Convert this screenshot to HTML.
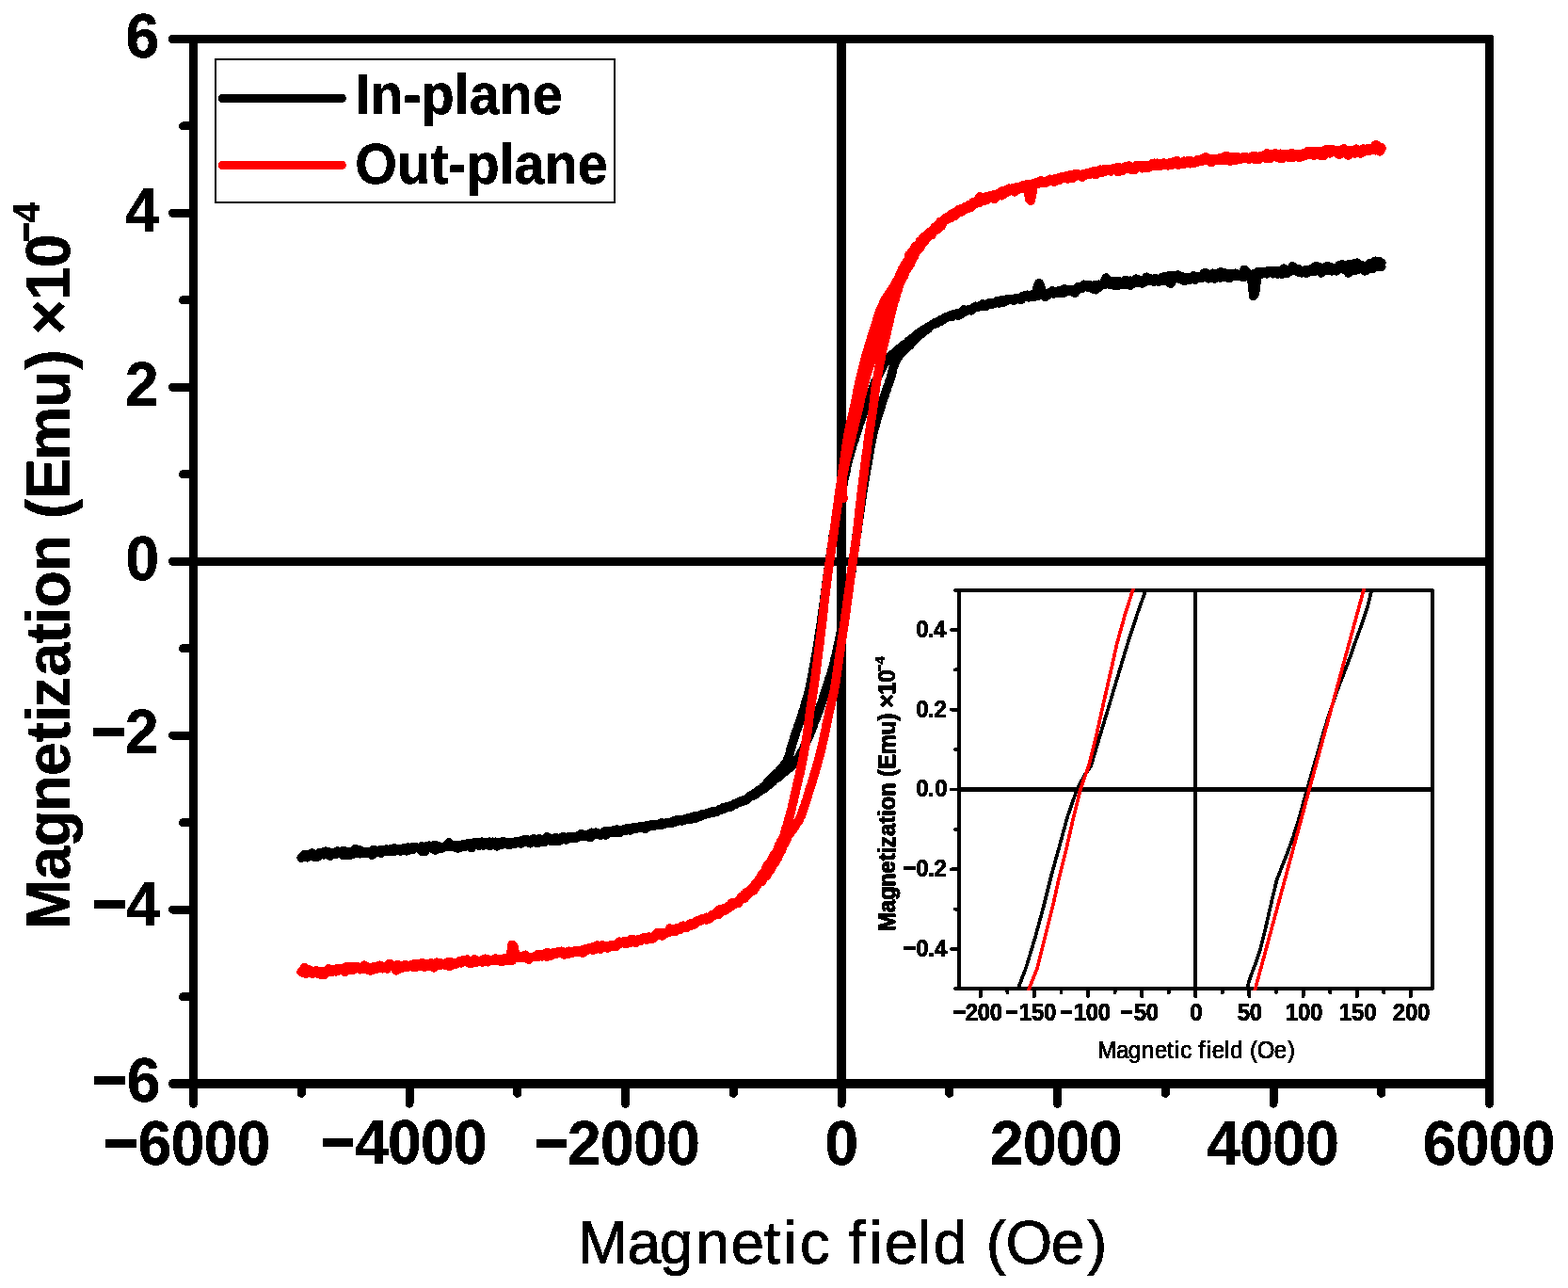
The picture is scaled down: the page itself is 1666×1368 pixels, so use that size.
<!DOCTYPE html>
<html lang="en"><head><meta charset="utf-8">
<title>Magnetization vs. magnetic field (in-plane / out-plane)</title>
<style>
html,body{margin:0;padding:0;background:#fff;}
body{width:1666px;height:1368px;overflow:hidden;}
svg{display:block;}
text{font-family:"Liberation Sans", Arial, Helvetica, sans-serif;fill:#000;filter:url(#bw);}
.b{font-weight:bold;}
.ax{stroke:#000;fill:none;stroke-linecap:round;shape-rendering:crispEdges;}
.cv{shape-rendering:crispEdges;}
</style></head><body>
<svg width="1666" height="1368" viewBox="0 0 1666 1368">
<defs><filter id="bw" x="-20%" y="-20%" width="140%" height="140%" color-interpolation-filters="sRGB"><feComponentTransfer><feFuncA type="discrete" tableValues="0 1"/></feComponentTransfer></filter></defs>
<rect x="0" y="0" width="1666" height="1368" fill="#fff"/>
<g class="ax" stroke-width="9.0">
<path stroke-linecap="butt" stroke-width="9.2" d="M201.0 41.4H1586.0"/>
<path stroke-linecap="butt" stroke-width="9.9" d="M201.0 1150.95H1587.0"/>
<path stroke-linecap="round" stroke-width="9.9" d="M205.5 1150.95H183.85"/>
<path stroke-linecap="round" stroke-width="9.2" d="M205.5 41.4H183.5"/>
<path stroke-linecap="butt" d="M205.5 36.8V1155.9M1582.5 37.8V1155.9"/>
<path stroke-linecap="butt" d="M205.5 596.20H1582.5"/>
<path stroke-linecap="butt" stroke-width="9.9" d="M894.00 41.4V1151.0"/>
<path d="M201.50 1151.00H183.40M201.50 1058.53H194.50M201.50 966.07H183.40M201.50 873.60H194.50M201.50 781.13H183.40M201.50 688.67H194.50M201.50 596.20H183.40M201.50 503.73H194.50M201.50 411.27H183.40M201.50 318.80H194.50M201.50 226.33H183.40M201.50 133.87H194.50M201.50 41.40H183.40M205.50 1155.00V1172.30M320.25 1155.00V1161.30M435.00 1155.00V1172.30M549.75 1155.00V1161.30M664.50 1155.00V1172.30M779.25 1155.00V1161.30M894.00 1155.00V1172.30M1008.75 1155.00V1161.30M1123.50 1155.00V1172.30M1238.25 1155.00V1161.30M1353.00 1155.00V1172.30M1467.75 1155.00V1161.30M1582.50 1155.00V1172.30"/>
</g>
<text class="b" transform="translate(0 60.85) scale(1 1.03)" font-size="64" stroke="#000" stroke-width="0.5"><tspan x="133.51" y="0">6</tspan></text>
<text class="b" transform="translate(0 245.65) scale(1 1.03)" font-size="64" stroke="#000" stroke-width="0.5"><tspan x="133.18" y="0">4</tspan></text>
<text class="b" transform="translate(0 430.65) scale(1 1.03)" font-size="64" stroke="#000" stroke-width="0.5"><tspan x="132.93" y="0">2</tspan></text>
<text class="b" transform="translate(0 615.85) scale(1 1.03)" font-size="64" stroke="#000" stroke-width="0.5"><tspan x="133.62" y="0">0</tspan></text>
<text class="b" transform="translate(0 799.65) scale(1 1.03)" font-size="64" stroke="#000" stroke-width="0.5"><tspan font-size="62.13" stroke-width="1.94" stroke-linejoin="miter" x="97.39" y="-0.84">−</tspan><tspan x="132.93" y="0">2</tspan></text>
<text class="b" transform="translate(0 982.55) scale(1 1.03)" font-size="64" stroke="#000" stroke-width="0.5"><tspan font-size="62.13" stroke-width="1.94" stroke-linejoin="miter" x="98.39" y="-0.84">−</tspan><tspan x="134.28" y="0">4</tspan></text>
<text class="b" transform="translate(0 1169.75) scale(1 1.03)" font-size="64" stroke="#000" stroke-width="0.5"><tspan font-size="62.13" stroke-width="1.94" stroke-linejoin="miter" x="98.39" y="-0.84">−</tspan><tspan x="134.71" y="0">6</tspan></text>
<text class="b" transform="translate(0 1236.85) scale(1 1.03)" font-size="64" stroke="#000" stroke-width="0.5"><tspan font-size="60.86" stroke-width="2.08" stroke-linejoin="miter" x="110.41" y="-1.46">−</tspan><tspan x="146.71 181.71 216.71 251.71" y="0">6000</tspan></text>
<text class="b" transform="translate(0 1235.85) scale(1 1.03)" font-size="64" stroke="#000" stroke-width="0.5"><tspan font-size="60.86" stroke-width="2.08" stroke-linejoin="miter" x="341.31" y="-1.46">−</tspan><tspan x="376.98 411.98 446.98 481.98" y="0">4000</tspan></text>
<text class="b" transform="translate(0 1236.75) scale(1 1.03)" font-size="64" stroke="#000" stroke-width="0.5"><tspan font-size="60.86" stroke-width="2.08" stroke-linejoin="miter" x="568.31" y="-1.46">−</tspan><tspan x="603.13 638.13 673.13 708.13" y="0">2000</tspan></text>
<text class="b" transform="translate(0 1236.85) scale(1 1.03)" font-size="64" stroke="#000" stroke-width="0.5"><tspan x="876.42" y="0">0</tspan></text>
<text class="b" transform="translate(0 1236.75) scale(1 1.03)" font-size="64" stroke="#000" stroke-width="0.5"><tspan x="1051.93 1086.93 1121.93 1156.93" y="0">2000</tspan></text>
<text class="b" transform="translate(0 1236.75) scale(1 1.03)" font-size="64" stroke="#000" stroke-width="0.5"><tspan x="1282.18 1317.18 1352.18 1387.18" y="0">4000</tspan></text>
<text class="b" transform="translate(0 1236.85) scale(1 1.03)" font-size="64" stroke="#000" stroke-width="0.5"><tspan x="1511.81 1546.81 1581.81 1616.81" y="0">6000</tspan></text>
<text transform="translate(0.00 1341.80) scale(1.0 1.025)" font-size="64" stroke="#000" stroke-width="0.9" stroke-linejoin="round"><tspan x="613.80 666.53 700.76 739.20 776.43 811.48 832.17 849.63 881.63 901.54 923.17 939.73 975.04 991.76 1027.36 1047.68 1068.42 1116.73 1155.08" y="0">Magnetic field (Oe)</tspan></text>
<text class="b" transform="translate(74.10 990.00) rotate(-90) scale(1.0 1.04)" font-size="64" stroke="#000" stroke-width="0.5" stroke-linejoin="round"><tspan x="2.97 55.58 90.52 128.13 165.95 201.67 222.98 238.69 271.77 306.77 327.08 344.85 383.13 422.23 439.06 460.17 501.23 557.38 597.59 618.90 634.46 671.22 705.82" y="0">Magnetization (Emu) ×10</tspan><tspan font-size="35.04" stroke-width="2.13" stroke-linejoin="miter" x="732.91" y="-32.77">−</tspan><tspan font-size="38.6" stroke-width="0.4" x="753.82" y="-30.87">4</tspan></text>
<rect class="cv" x="229" y="63.15" width="424" height="151.8" fill="#fff" stroke="#000" stroke-width="2"/>
<path class="cv" d="M236.4 104.4H363.3" stroke="#000" stroke-width="9.2" stroke-linecap="round" fill="none"/>
<path class="cv" d="M236.4 175.4H363.3" stroke="#f00" stroke-width="9.2" stroke-linecap="round" fill="none"/>
<text class="b" transform="translate(377.30 121.00) scale(1 1.06)" font-size="57.5" text-anchor="start" stroke="#000" stroke-width="0.6">In-plane</text>
<text class="b" transform="translate(377.30 195.20) scale(1 1.06)" font-size="57.5" text-anchor="start" stroke="#000" stroke-width="0.6">Out-plane</text>
<g class="cv" fill="none" stroke-linejoin="round" stroke-linecap="round">
<path stroke="#000" stroke-width="9.6" d="M320.2 910.8L321.8 909.1L323.4 907.6L325.0 909.1L326.6 910.7L328.2 909.4L329.8 908.2L331.4 906.8L333.0 909.5L334.6 910.4L336.2 908.0L337.8 907.4L339.4 905.6L341.0 905.7L342.6 907.2L344.2 907.9L345.8 904.2L347.4 906.7L349.0 908.2L350.6 909.2L352.2 907.8L353.8 907.1L355.4 907.5L357.0 907.2L358.6 906.6L360.2 905.8L361.8 904.9L363.4 905.7L365.0 908.6L366.6 906.2L368.2 908.1L369.8 907.1L371.4 908.4L373.0 906.8L374.6 907.3L376.2 906.0L377.8 901.5L379.4 904.2L381.0 904.0L382.6 906.7L384.2 906.2L385.8 904.7L387.4 905.1L389.0 904.6L390.6 904.7L392.2 906.1L393.8 904.5L395.4 905.6L397.0 902.5L398.6 904.4L400.2 903.5L401.8 904.0L403.4 902.9L405.0 904.4L406.6 902.8L408.2 903.7L409.8 902.1L411.4 902.3L413.0 903.0L414.6 904.3L416.2 902.7L417.8 902.5L419.4 900.8L421.0 902.8L422.6 902.2L424.2 902.0L425.8 902.1L427.4 902.2L429.0 902.2L430.6 903.1L432.2 903.9L433.8 903.3L435.4 901.8L437.0 900.1L438.6 900.1L440.2 899.9L441.8 900.2L443.4 900.3L445.0 900.9L446.6 900.3L448.2 898.8L449.8 900.8L451.4 901.9L453.0 898.9L454.6 899.9L456.2 899.3L457.8 899.2L459.4 901.5L461.0 897.9L462.6 897.4L464.2 899.1L465.8 898.9L467.4 899.5L469.0 900.9L470.6 900.4L472.2 899.5L473.8 898.3L475.4 898.3L477.0 899.0L478.6 897.6L480.2 899.6L481.8 898.3L483.4 897.5L485.0 898.8L486.6 900.9L488.2 900.5L489.8 899.0L491.4 898.0L493.0 896.4L494.5 898.8L496.1 898.4L497.7 897.4L499.3 897.9L500.9 900.6L502.5 897.8L504.1 895.0L505.7 895.4L507.3 897.8L508.9 897.9L510.5 897.2L512.1 894.2L513.7 895.3L515.3 896.2L516.9 894.7L518.5 896.1L520.1 894.2L521.7 896.4L523.3 896.9L524.9 895.6L526.5 894.3L528.1 894.6L529.7 895.1L531.3 897.6L532.9 897.1L534.5 896.8L536.1 896.5L537.7 895.1L539.3 895.5L540.9 894.4L542.5 894.7L544.1 895.2L545.7 894.8L547.3 894.2L548.9 893.4L550.5 894.6L552.1 894.6L553.7 895.8L555.3 892.9L556.9 892.0L558.5 893.4L560.1 894.1L561.7 895.1L563.3 893.8L564.9 893.3L566.5 890.8L568.1 892.0L569.7 893.4L571.3 895.7L572.9 892.2L574.5 892.2L576.1 894.1L577.7 892.7L579.3 894.0L580.9 889.0L582.5 889.6L584.1 890.4L585.6 891.3L587.2 893.6L588.8 892.2L590.4 893.1L592.0 891.1L593.6 893.2L595.2 892.5L596.8 889.9L598.4 888.4L600.0 890.8L601.6 891.9L603.2 889.6L604.8 888.8L606.3 890.3L607.9 890.4L609.5 890.3L611.1 890.6L612.7 890.1L614.3 887.8L615.9 887.4L617.5 885.7L619.1 887.3L620.7 887.7L622.2 888.6L623.8 887.9L625.4 888.7L627.0 889.4L628.6 886.9L630.2 885.1L631.8 884.9L633.4 884.2L634.9 884.9L636.5 886.1L638.1 885.5L639.7 885.6L641.3 886.2L642.9 886.9L644.5 886.7L646.0 885.0L647.6 884.1L649.2 884.2L650.8 882.2L652.4 882.6L654.0 882.2L655.5 881.2L657.1 882.8L658.7 884.2L660.3 881.9L661.9 882.4L663.5 880.4L665.0 880.5L666.6 879.8L668.2 879.6L669.8 882.0L671.4 880.1L673.0 880.5L674.5 880.6L676.1 880.1L677.7 878.7L679.3 878.0L680.9 877.5L682.5 879.5L684.0 879.1L685.6 880.3L687.2 878.6L688.8 877.2L690.4 877.8L692.0 876.9L693.5 876.5L695.1 875.5L696.7 876.5L698.3 876.7L699.9 876.5L701.5 874.3L703.1 873.9L704.6 874.5L706.2 874.3L707.8 874.1L709.4 873.8L711.0 873.8L712.5 873.7L714.1 874.2L715.7 873.7L717.3 871.6L718.8 871.6L720.4 871.7L722.0 871.7L723.5 871.3L725.1 870.8L726.7 871.1L728.2 870.4L729.8 869.9L731.4 870.1L732.9 870.0L734.5 869.9L736.0 869.6L737.6 868.0L739.1 869.3L740.7 868.1L742.2 867.6L743.8 867.2L745.3 866.3L746.8 865.1L748.4 865.0L749.9 864.8L751.4 864.7L753.0 864.0L754.5 862.9L756.0 862.9L757.6 863.0L759.1 862.8L760.6 862.3L762.1 862.0L763.7 860.1L765.2 859.6L766.7 859.3L768.2 858.0L769.7 858.4L771.3 857.4L772.8 856.7L774.3 857.3L775.8 857.2L777.3 856.5L778.8 855.0L780.3 853.9L781.8 854.3L783.2 852.9L784.7 852.7L786.2 852.2L787.6 851.6L789.1 850.9L790.5 850.8L792.0 849.9L793.4 849.2L794.8 847.8L796.3 846.1L797.7 844.8L799.1 845.0L800.5 845.2L801.9 844.2L803.3 843.5L804.6 841.6L806.0 840.9L807.3 840.6L808.7 839.3L810.0 838.4L811.3 838.3L812.6 837.3L813.9 836.2L815.1 835.0L816.4 833.9L817.6 833.0L818.8 831.9L820.1 831.0L821.3 830.2L822.5 828.3L823.7 827.4L824.9 826.4L826.2 826.1L827.4 824.8L828.7 823.4L830.0 823.0L831.3 821.3L832.6 820.6L833.9 819.5L835.2 818.6L836.5 817.5L837.7 816.1L839.0 815.5L840.2 813.9L841.4 813.5L842.5 812.6L843.6 811.0L844.6 810.3L845.6 809.1L846.6 807.4L847.4 805.9L848.3 805.5L849.1 803.7L849.9 801.6L850.7 800.2L851.4 799.3L852.1 798.1L852.9 796.7L853.6 795.5L854.2 793.8L854.9 792.2L855.6 790.7L856.3 788.8L856.9 787.6L857.6 786.7L858.3 784.6L858.9 783.6L859.5 782.1L860.2 780.5L860.8 779.1L861.4 777.8L862.0 776.2L862.6 773.8L863.2 772.9L863.8 771.5L864.4 769.6L864.9 768.1L865.5 766.6L866.1 765.0L866.6 764.5L867.2 762.9L867.8 761.1L868.3 759.3L868.9 757.5L869.4 756.1L870.0 754.9L870.5 753.4L871.0 752.0L871.6 750.3L872.1 748.6L872.6 747.4L873.1 746.2L873.6 744.7L874.2 742.6L874.7 740.8L875.2 739.3L875.7 737.8L876.2 736.3L876.7 735.1L877.2 733.4L877.6 732.4L878.1 730.8L878.6 729.4L879.1 727.4L879.6 726.2L880.1 724.6L880.5 722.9L881.0 721.0L881.5 720.0L882.0 718.8L882.5 716.7L882.9 715.7L883.4 713.8L883.8 712.4L884.3 710.8L884.7 709.9L885.2 707.6L885.6 706.3L886.0 704.9L886.4 702.4L886.8 701.0L887.2 698.5L887.6 697.7L888.0 696.7L888.3 695.2L888.7 693.1L889.0 691.9L889.4 690.3L889.7 688.7L890.0 687.6L890.3 685.9L890.7 684.5L891.0 683.2L891.3 681.0L891.6 679.3L891.9 677.9L892.2 676.7L892.5 675.6L892.9 673.4L893.2 671.8L893.5 670.7L893.8 668.8L894.2 667.6L894.5 665.7L894.9 663.9L895.2 662.2L895.6 660.6L895.9 659.1L896.3 658.0L896.6 656.3L897.0 654.7L897.3 653.1L897.6 651.3L898.0 649.5L898.3 647.6L898.6 647.3L898.9 645.2L899.2 643.6L899.5 641.2L899.8 639.8L900.0 639.1L900.3 637.2L900.6 635.8L900.8 633.7L901.1 632.7L901.3 631.0L901.6 629.4L901.8 627.8L902.0 626.3L902.3 625.2L902.5 623.0L902.7 621.0L902.9 619.7L903.2 618.5L903.4 616.6L903.6 614.8L903.8 613.4L904.0 611.8L904.2 609.7L904.5 608.9L904.7 607.3L904.9 606.2L905.1 604.4L905.3 602.7L905.6 601.2L905.8 599.5L906.0 597.1L906.2 595.8L906.5 594.4L906.7 592.0L906.9 590.9L907.2 590.1L907.4 588.1L907.6 586.8L907.8 584.4L908.1 583.5L908.3 582.0L908.5 580.8L908.8 578.7L909.0 577.3L909.2 575.5L909.4 573.9L909.7 572.4L909.9 570.3L910.1 568.6L910.4 567.2L910.6 566.1L910.8 564.7L911.0 562.7L911.3 560.3L911.5 559.4L911.7 558.1L911.9 556.6L912.2 555.2L912.4 553.6L912.6 551.8L912.9 549.5L913.1 548.2L913.3 546.9L913.5 545.8L913.7 543.8L914.0 542.1L914.2 540.9L914.4 539.4L914.6 537.5L914.8 535.4L915.1 533.8L915.3 532.3L915.5 531.0L915.7 529.2L916.0 527.7L916.2 525.4L916.4 524.7L916.7 523.2L916.9 521.0L917.2 519.8L917.4 517.7L917.7 516.5L917.9 515.0L918.2 513.6L918.4 512.4L918.7 510.9L918.9 508.2L919.2 506.7L919.5 505.2L919.8 503.6L920.0 502.1L920.3 500.4L920.6 499.2L920.8 497.7L921.1 495.8L921.4 494.6L921.7 493.4L922.0 491.6L922.2 490.1L922.5 488.1L922.8 486.9L923.1 485.5L923.3 483.8L923.6 481.5L923.9 480.2L924.2 478.6L924.5 477.1L924.7 475.5L925.0 473.7L925.3 471.8L925.6 471.2L925.9 468.9L926.2 467.6L926.6 466.2L926.9 463.8L927.2 462.8L927.6 460.7L928.0 459.3L928.3 458.5L928.7 456.7L929.1 455.0L929.5 453.7L929.9 453.0L930.4 451.0L930.8 449.3L931.2 448.0L931.7 445.5L932.1 444.4L932.6 443.0L933.1 441.5L933.5 440.2L934.0 438.7L934.5 436.9L934.9 435.2L935.4 433.9L935.9 432.3L936.4 431.2L936.8 429.1L937.3 427.9L937.8 426.1L938.3 424.9L938.8 423.3L939.4 421.6L939.9 420.4L940.4 417.8L940.9 416.7L941.5 415.4L942.0 414.2L942.5 412.0L943.0 410.3L943.6 409.1L944.1 408.3L944.6 406.7L945.1 404.7L945.6 403.5L946.1 402.3L946.6 400.8L947.0 399.2L947.5 397.3L947.9 395.8L948.3 394.0L948.7 391.4L949.1 389.9L949.6 389.3L950.1 387.6L950.6 386.2L951.1 384.8L951.7 383.0L952.4 382.0L953.2 380.9L954.0 379.6L955.0 378.3L956.0 376.6L957.1 375.4L958.2 374.9L959.3 373.7L960.5 372.6L961.7 370.9L962.9 369.8L964.1 368.4L965.2 367.5L966.4 367.1L967.5 365.4L968.6 364.1L969.7 362.8L970.8 362.1L971.9 360.7L973.0 359.7L974.1 358.5L975.2 357.0L976.4 355.8L977.5 355.1L978.7 354.5L979.9 354.0L981.2 352.5L982.4 350.7L983.7 350.0L985.0 350.0L986.4 348.9L987.7 347.4L989.1 345.8L990.5 344.9L991.9 344.4L993.3 343.8L994.7 343.7L996.1 342.9L997.6 342.0L999.0 341.5L1000.5 340.4L1001.9 339.8L1003.4 338.8L1004.8 337.4L1006.3 336.9L1007.8 336.5L1009.2 336.3L1010.7 336.6L1012.2 335.6L1013.7 334.5L1015.3 334.7L1016.8 333.0L1018.3 333.1L1019.8 332.3L1021.3 332.2L1022.8 332.4L1024.4 330.0L1025.9 330.9L1027.4 329.5L1028.9 329.7L1030.5 328.8L1032.0 329.0L1033.5 328.4L1035.0 327.0L1036.6 325.4L1038.1 326.6L1039.6 326.1L1041.2 324.9L1042.7 325.4L1044.3 324.2L1045.8 324.7L1047.3 323.5L1048.9 323.0L1050.4 321.9L1052.0 322.0L1053.5 323.0L1055.1 321.7L1056.6 322.4L1058.2 320.9L1059.8 319.5L1061.3 319.6L1062.9 320.4L1064.4 318.9L1066.0 319.1L1067.6 320.3L1069.2 319.7L1070.7 317.6L1072.3 318.3L1073.9 318.0L1075.5 318.1L1077.0 319.3L1078.6 318.4L1080.2 317.0L1081.8 316.5L1083.4 316.6L1084.9 318.4L1086.5 315.4L1088.1 314.7L1089.7 314.0L1091.3 313.3L1092.9 314.7L1094.5 315.2L1096.0 314.2L1097.6 312.2L1099.2 315.1L1100.8 314.3L1102.4 314.4L1104.0 312.8L1105.5 311.1L1107.1 312.3L1108.7 313.7L1110.3 312.5L1111.9 312.3L1113.5 313.6L1115.0 311.0L1116.6 311.6L1118.2 310.2L1119.8 312.0L1121.4 309.5L1123.0 311.6L1124.5 309.0L1126.1 311.6L1127.7 308.3L1129.3 309.2L1130.9 310.9L1132.5 309.6L1134.0 308.2L1135.6 309.4L1137.2 308.9L1138.8 307.6L1140.4 307.6L1142.0 311.4L1143.5 308.9L1145.1 306.8L1146.7 306.0L1148.3 304.6L1149.9 306.3L1151.5 302.3L1153.1 303.1L1154.6 304.0L1156.2 303.0L1157.8 302.7L1159.4 303.7L1161.0 304.9L1162.6 302.9L1164.2 302.9L1165.8 305.9L1167.3 305.8L1168.9 303.4L1170.5 303.0L1172.1 302.4L1173.7 301.6L1175.3 301.9L1176.9 299.9L1178.5 302.1L1180.1 302.4L1181.7 301.5L1183.2 300.4L1184.8 299.9L1186.4 298.6L1188.0 300.8L1189.6 299.2L1191.2 299.5L1192.8 301.6L1194.4 301.0L1196.0 297.5L1197.6 298.0L1199.2 299.9L1200.8 303.2L1202.4 301.9L1203.9 301.3L1205.5 299.9L1207.1 296.1L1208.7 296.9L1210.3 297.7L1211.9 299.8L1213.5 300.8L1215.1 299.6L1216.7 299.5L1218.3 294.3L1219.9 297.4L1221.5 298.7L1223.1 296.5L1224.7 297.2L1226.3 299.3L1227.9 296.2L1229.5 297.4L1231.1 299.3L1232.7 297.4L1234.3 296.4L1235.9 297.2L1237.5 295.9L1239.1 295.1L1240.7 297.4L1242.3 299.9L1243.9 301.2L1245.5 298.2L1247.1 294.9L1248.7 294.1L1250.3 293.1L1251.9 292.0L1253.5 294.3L1255.1 293.5L1256.7 297.1L1258.3 294.9L1259.9 294.5L1261.5 295.0L1263.1 295.7L1264.7 296.9L1266.3 295.3L1267.9 292.9L1269.5 294.5L1271.1 293.6L1272.7 295.1L1274.3 294.1L1275.9 295.7L1277.5 294.0L1279.1 294.3L1280.7 293.5L1282.3 294.6L1283.9 295.8L1285.5 294.8L1287.1 292.2L1288.7 290.3L1290.3 292.7L1291.9 291.6L1293.5 291.2L1295.0 291.6L1296.6 294.9L1298.2 292.9L1299.8 294.2L1301.4 291.1L1303.0 290.5L1304.6 290.6L1306.2 295.7L1307.8 292.2L1309.4 290.8L1311.0 293.5L1312.6 290.7L1314.2 291.1L1315.8 291.6L1317.4 292.6L1319.0 293.4L1320.6 292.6L1322.2 286.3L1323.8 288.9L1325.4 289.8L1327.0 291.4L1328.6 291.9L1330.2 299.4L1331.8 314.4L1333.4 312.1L1335.0 299.8L1336.6 288.7L1338.2 291.5L1339.8 288.8L1341.4 289.4L1343.0 288.4L1344.6 289.3L1346.2 290.9L1347.8 287.8L1349.4 289.5L1351.0 289.5L1352.6 290.7L1354.2 289.2L1355.8 289.6L1357.4 288.5L1359.0 288.0L1360.6 289.5L1362.2 291.3L1363.8 288.6L1365.4 286.7L1367.0 286.4L1368.6 289.5L1370.2 287.4L1371.8 287.0L1373.4 286.9L1375.0 286.6L1376.6 287.8L1378.2 287.2L1379.8 285.6L1381.4 287.6L1383.0 289.9L1384.6 288.2L1386.2 287.0L1387.8 290.3L1389.4 289.2L1391.0 286.5L1392.6 286.8L1394.2 286.4L1395.8 288.7L1397.4 285.4L1399.0 282.6L1400.6 285.2L1402.2 287.1L1403.8 288.4L1405.4 285.0L1407.0 285.3L1408.6 286.9L1410.2 283.7L1411.8 283.4L1413.4 283.5L1415.0 287.9L1416.6 286.3L1418.2 284.3L1419.8 287.0L1421.4 283.8L1423.0 281.7L1424.6 281.6L1426.2 284.9L1427.8 286.0L1429.4 283.1L1431.0 282.0L1432.6 281.0L1434.2 280.7L1435.8 283.0L1437.4 284.4L1439.0 287.6L1440.6 283.6L1442.2 279.2L1443.8 282.9L1445.4 284.2L1447.0 282.4L1448.6 282.2L1450.2 285.5L1451.8 285.3L1453.4 286.0L1455.0 280.0L1456.6 283.2L1458.2 281.2L1459.8 278.3L1461.4 277.3L1463.0 277.8L1464.6 277.5L1466.2 283.0L1467.8 283.1"/>
<path stroke="#000" stroke-width="9.6" d="M320.2 911.1L321.8 909.4L323.4 909.4L325.0 909.7L326.6 907.7L328.2 908.2L329.8 908.8L331.4 906.0L333.0 908.2L334.6 909.9L336.2 910.6L337.8 909.7L339.4 907.6L341.0 906.6L342.6 905.8L344.2 904.5L345.8 904.2L347.4 905.4L349.0 904.9L350.6 905.5L352.2 907.3L353.8 906.0L355.4 906.5L357.0 907.0L358.6 904.1L360.2 904.7L361.8 906.6L363.4 906.6L365.0 903.3L366.6 905.5L368.2 905.0L369.8 904.8L371.4 904.9L373.0 904.7L374.6 906.1L376.2 906.4L377.8 906.1L379.4 906.2L381.0 904.6L382.6 903.0L384.2 905.6L385.8 904.6L387.4 906.2L389.0 906.3L390.6 905.7L392.2 904.9L393.8 905.3L395.4 908.2L397.0 903.9L398.6 904.6L400.2 905.2L401.8 903.6L403.4 904.7L405.0 906.1L406.6 904.0L408.2 903.3L409.8 904.6L411.4 902.8L413.0 902.8L414.6 904.6L416.2 901.5L417.8 902.2L419.4 904.2L421.0 902.8L422.6 902.7L424.2 901.5L425.8 904.0L427.4 901.7L429.0 901.0L430.6 901.0L432.2 901.0L433.8 900.1L435.4 900.5L437.0 901.3L438.6 902.7L440.2 900.7L441.8 900.1L443.4 900.7L445.0 901.0L446.6 900.3L448.2 904.1L449.8 901.8L451.4 904.4L453.0 901.9L454.6 899.9L456.2 898.1L457.8 900.3L459.4 899.9L461.0 900.3L462.6 903.1L464.2 900.3L465.8 900.2L467.4 900.0L469.0 901.1L470.6 900.3L472.2 899.8L473.8 898.1L475.4 898.6L477.0 894.9L478.6 898.2L480.2 899.1L481.8 899.1L483.4 900.0L485.0 897.4L486.6 897.5L488.2 899.7L489.8 898.8L491.4 897.1L493.0 899.6L494.5 898.5L496.1 898.5L497.7 895.3L499.3 896.5L500.9 897.8L502.5 898.3L504.1 895.6L505.7 897.3L507.3 894.6L508.9 898.1L510.5 897.7L512.1 897.5L513.7 897.9L515.3 897.4L516.9 896.1L518.5 897.2L520.1 898.4L521.7 895.5L523.3 894.2L524.9 896.3L526.5 895.7L528.1 898.8L529.7 895.6L531.3 897.2L532.9 896.8L534.5 893.4L536.1 896.1L537.7 895.5L539.3 896.5L540.9 897.6L542.5 897.2L544.1 895.3L545.7 896.4L547.3 895.9L548.9 894.1L550.5 894.4L552.1 895.8L553.7 893.0L555.3 893.5L556.9 892.1L558.5 894.3L560.1 892.0L561.7 894.4L563.3 895.7L564.9 894.5L566.5 894.0L568.1 893.0L569.7 893.5L571.3 892.3L572.9 891.0L574.5 892.7L576.1 893.9L577.7 893.2L579.3 891.6L580.9 890.9L582.5 891.8L584.1 892.8L585.6 891.9L587.2 890.5L588.8 891.7L590.4 889.9L592.0 890.3L593.6 890.3L595.2 891.1L596.8 889.2L598.4 889.8L600.0 891.6L601.6 889.6L603.2 890.2L604.8 888.6L606.3 889.0L607.9 889.8L609.5 889.1L611.1 889.5L612.7 889.8L614.3 888.9L615.9 887.6L617.5 887.8L619.1 887.9L620.7 888.3L622.2 887.2L623.8 886.9L625.4 886.0L627.0 886.1L628.6 884.2L630.2 887.2L631.8 886.6L633.4 885.6L634.9 884.7L636.5 886.8L638.1 887.0L639.7 885.7L641.3 884.0L642.9 883.1L644.5 885.4L646.0 884.4L647.6 882.8L649.2 883.2L650.8 884.3L652.4 884.2L654.0 884.6L655.5 882.1L657.1 882.5L658.7 882.6L660.3 882.9L661.9 882.1L663.5 882.4L665.0 882.4L666.6 881.4L668.2 881.0L669.8 880.1L671.4 879.9L673.0 878.7L674.5 879.3L676.1 879.0L677.7 878.8L679.3 879.5L680.9 877.8L682.5 878.6L684.0 879.6L685.6 877.3L687.2 876.9L688.8 877.6L690.4 876.4L692.0 875.8L693.5 875.6L695.1 877.0L696.7 876.2L698.3 876.7L699.9 876.4L701.5 876.1L703.1 876.0L704.6 874.7L706.2 875.1L707.8 874.0L709.4 873.7L711.0 874.1L712.5 873.4L714.1 872.6L715.7 871.8L717.3 872.4L718.8 870.9L720.4 871.0L722.0 870.4L723.6 871.9L725.1 871.9L726.7 870.1L728.2 870.3L729.8 869.7L731.4 868.7L732.9 870.0L734.5 868.9L736.0 867.3L737.6 867.2L739.1 867.4L740.7 866.9L742.2 866.8L743.7 866.0L745.3 865.1L746.8 865.4L748.4 864.8L749.9 864.4L751.4 863.7L753.0 863.1L754.5 863.7L756.0 862.2L757.5 861.6L759.1 862.2L760.6 861.6L762.1 861.7L763.6 860.7L765.2 859.7L766.7 859.8L768.2 859.3L769.7 858.8L771.2 858.2L772.7 857.7L774.3 857.4L775.8 856.0L777.3 855.6L778.8 855.4L780.2 854.0L781.7 853.9L783.2 852.7L784.6 852.8L786.1 851.2L787.5 851.0L789.0 850.7L790.4 849.5L791.9 849.3L793.3 848.7L794.7 847.3L796.1 846.6L797.5 845.5L798.9 844.7L800.3 843.8L801.6 842.9L803.0 841.8L804.3 841.1L805.6 839.9L806.8 838.9L808.1 839.0L809.3 838.3L810.5 836.2L811.6 835.4L812.8 834.2L813.9 833.1L815.0 831.8L816.1 829.9L817.2 829.5L818.3 828.3L819.4 827.1L820.5 826.3L821.6 825.2L822.8 823.9L823.9 822.6L825.1 821.2L826.3 820.8L827.5 819.8L828.7 817.6L829.8 816.6L830.9 815.2L832.0 814.3L833.0 813.3L834.0 811.2L834.8 810.7L835.6 809.6L836.3 807.8L836.9 806.4L837.4 805.6L837.9 803.7L838.4 801.8L838.9 800.9L839.3 799.3L839.7 797.2L840.1 795.0L840.5 794.7L841.0 793.0L841.4 791.1L841.9 789.8L842.4 788.4L842.9 786.7L843.4 784.8L843.9 783.7L844.4 781.7L845.0 780.0L845.5 778.4L846.0 776.6L846.5 775.7L847.1 774.3L847.6 772.4L848.1 770.7L848.6 769.2L849.2 768.2L849.7 766.9L850.2 765.7L850.7 764.0L851.2 762.6L851.6 760.9L852.1 759.3L852.6 757.4L853.1 755.7L853.5 754.4L854.0 753.3L854.5 751.6L854.9 749.8L855.4 748.0L855.9 746.6L856.3 744.9L856.8 743.8L857.2 742.0L857.6 740.3L858.1 739.1L858.5 737.8L858.9 735.7L859.3 734.7L859.7 732.7L860.0 731.4L860.4 729.9L860.8 728.4L861.1 726.9L861.4 725.2L861.8 723.0L862.1 721.3L862.4 720.2L862.7 718.6L863.0 716.9L863.3 715.7L863.5 713.5L863.8 712.3L864.1 710.6L864.4 709.6L864.7 708.2L864.9 706.7L865.2 705.0L865.5 702.8L865.8 701.5L866.0 699.6L866.3 698.3L866.6 697.1L866.9 695.2L867.2 693.7L867.4 692.6L867.7 690.6L868.0 688.5L868.3 687.2L868.5 686.1L868.8 684.5L869.1 683.1L869.3 681.2L869.6 679.8L869.8 678.0L870.1 676.2L870.4 674.2L870.6 673.3L870.9 672.2L871.1 669.6L871.3 668.0L871.6 666.7L871.8 664.9L872.0 663.8L872.3 662.2L872.5 660.2L872.7 658.8L872.9 657.2L873.2 655.4L873.4 653.9L873.6 652.5L873.8 650.7L874.0 648.7L874.3 647.0L874.5 646.2L874.7 644.3L874.9 643.5L875.1 642.0L875.4 639.8L875.6 638.0L875.8 636.0L876.0 635.4L876.2 633.1L876.4 631.9L876.7 630.4L876.9 628.5L877.1 626.5L877.3 625.6L877.5 624.5L877.7 622.7L877.9 620.9L878.1 618.7L878.4 617.2L878.6 615.9L878.8 614.5L879.0 613.0L879.2 610.9L879.4 610.0L879.6 608.4L879.9 606.8L880.1 604.6L880.3 603.1L880.5 601.8L880.7 599.8L881.0 597.7L881.2 596.2L881.4 595.5L881.7 593.8L881.9 591.8L882.1 591.0L882.3 589.5L882.6 587.7L882.8 585.7L883.0 584.4L883.3 582.6L883.5 581.1L883.7 579.3L883.9 578.2L884.2 577.2L884.4 575.7L884.6 573.4L884.9 571.3L885.1 569.7L885.4 568.8L885.6 567.5L885.9 565.5L886.1 564.0L886.4 562.8L886.6 560.9L886.9 559.3L887.1 557.4L887.4 555.6L887.7 554.0L887.9 552.4L888.2 550.7L888.5 549.3L888.8 547.9L889.1 546.4L889.4 544.3L889.7 543.1L890.0 541.2L890.4 539.3L890.7 537.5L891.1 537.3L891.4 535.3L891.7 533.4L892.1 532.2L892.4 530.8L892.8 529.6L893.1 527.9L893.5 526.0L893.8 525.0L894.2 523.0L894.5 521.5L894.8 519.7L895.1 518.4L895.5 516.6L895.8 514.9L896.1 513.5L896.4 512.0L896.7 509.9L897.0 508.3L897.3 507.2L897.7 505.3L898.0 504.2L898.3 502.6L898.6 501.9L899.0 499.8L899.3 497.6L899.7 496.2L900.0 494.3L900.4 493.1L900.8 491.3L901.2 489.9L901.6 488.6L902.0 486.1L902.4 485.3L902.8 484.1L903.3 482.2L903.7 480.4L904.2 478.9L904.6 477.5L905.1 475.8L905.5 474.0L906.0 472.5L906.5 471.7L907.0 469.3L907.5 468.1L907.9 467.4L908.4 465.2L908.9 463.7L909.4 462.1L909.9 459.9L910.4 459.1L910.8 457.8L911.3 456.5L911.8 454.6L912.3 452.8L912.8 451.3L913.3 449.8L913.8 449.2L914.4 447.1L914.9 445.1L915.4 444.0L915.9 442.6L916.4 441.3L917.0 439.4L917.5 438.4L918.0 435.9L918.6 434.7L919.1 433.5L919.7 432.3L920.2 430.3L920.8 428.5L921.4 427.4L921.9 425.8L922.5 424.2L923.1 422.5L923.6 421.0L924.2 419.3L924.8 418.6L925.4 416.0L926.0 415.3L926.6 414.2L927.2 412.8L927.8 410.9L928.5 409.2L929.1 407.0L929.7 405.7L930.4 405.0L931.1 403.7L931.7 402.3L932.4 401.0L933.1 399.4L933.8 398.0L934.4 395.9L935.1 394.6L935.9 393.0L936.6 391.8L937.3 390.8L938.1 389.0L938.9 387.7L939.7 385.6L940.6 384.3L941.4 383.9L942.4 382.9L943.4 381.6L944.4 380.3L945.5 378.7L946.6 377.8L947.8 376.6L949.0 375.8L950.3 374.8L951.5 373.3L952.8 372.6L954.1 371.0L955.4 370.5L956.7 369.5L958.0 368.5L959.3 367.4L960.6 365.9L961.8 365.6L963.0 364.8L964.3 364.0L965.5 362.1L966.7 361.2L967.9 360.2L969.2 359.1L970.4 358.9L971.6 357.2L972.9 356.2L974.1 355.2L975.4 354.3L976.7 353.4L978.0 352.6L979.3 351.9L980.7 351.0L982.0 349.8L983.4 349.9L984.7 348.2L986.1 347.2L987.5 347.0L988.9 345.8L990.3 344.9L991.7 344.5L993.2 342.9L994.6 342.5L996.0 342.0L997.5 342.0L998.9 339.8L1000.4 339.6L1001.8 339.0L1003.3 338.6L1004.8 336.9L1006.2 337.0L1007.7 335.8L1009.2 335.2L1010.7 334.7L1012.2 334.4L1013.7 333.6L1015.2 333.8L1016.7 334.7L1018.3 335.1L1019.8 332.5L1021.3 333.3L1022.8 331.1L1024.3 328.8L1025.9 330.9L1027.4 329.7L1028.9 329.0L1030.4 329.2L1032.0 329.9L1033.5 328.5L1035.0 326.4L1036.6 326.7L1038.1 326.4L1039.6 325.9L1041.2 325.5L1042.7 324.9L1044.2 322.8L1045.8 324.3L1047.3 325.3L1048.9 323.3L1050.4 323.4L1052.0 323.2L1053.5 323.6L1055.1 322.6L1056.6 322.2L1058.2 321.1L1059.8 321.2L1061.3 321.9L1062.9 320.3L1064.5 320.0L1066.0 321.3L1067.6 320.2L1069.2 318.6L1070.7 318.6L1072.3 318.7L1073.9 317.6L1075.5 318.3L1077.0 318.4L1078.6 317.0L1080.2 317.1L1081.8 317.3L1083.4 316.4L1084.9 315.9L1086.5 314.8L1088.1 314.2L1089.7 314.8L1091.3 314.9L1092.9 315.8L1094.5 314.7L1096.0 314.8L1097.6 313.3L1099.2 312.7L1100.8 312.3L1102.4 303.6L1104.0 300.6L1105.5 303.2L1107.1 309.9L1108.7 312.1L1110.3 315.3L1111.9 312.2L1113.5 313.5L1115.0 311.9L1116.6 310.7L1118.2 308.9L1119.8 310.1L1121.4 310.3L1123.0 310.7L1124.5 309.7L1126.1 311.0L1127.7 309.1L1129.3 308.5L1130.9 306.9L1132.5 308.2L1134.0 307.8L1135.6 307.6L1137.2 307.6L1138.8 308.8L1140.4 308.5L1142.0 307.4L1143.5 306.3L1145.1 304.9L1146.7 306.6L1148.3 305.8L1149.9 304.9L1151.5 304.1L1153.1 304.5L1154.6 304.6L1156.2 305.2L1157.8 304.8L1159.4 304.8L1161.0 306.8L1162.6 305.9L1164.2 307.8L1165.8 304.3L1167.3 302.4L1168.9 303.4L1170.5 302.8L1172.1 301.4L1173.7 298.0L1175.3 295.1L1176.9 299.0L1178.5 301.4L1180.1 301.7L1181.7 298.8L1183.2 302.8L1184.8 301.5L1186.4 303.1L1188.0 302.7L1189.6 302.7L1191.2 300.3L1192.8 301.9L1194.4 302.3L1196.0 301.3L1197.6 301.8L1199.2 301.9L1200.8 298.2L1202.4 300.0L1203.9 300.8L1205.5 297.8L1207.1 298.5L1208.7 297.2L1210.3 300.6L1211.9 299.8L1213.5 298.3L1215.1 298.1L1216.7 297.4L1218.3 296.1L1219.9 296.5L1221.5 295.8L1223.1 296.0L1224.7 298.2L1226.3 297.5L1227.9 295.5L1229.5 298.1L1231.1 296.7L1232.7 296.0L1234.3 294.6L1235.9 298.5L1237.5 293.8L1239.1 297.9L1240.7 297.0L1242.3 292.7L1243.9 297.1L1245.5 293.0L1247.1 294.5L1248.7 292.5L1250.3 292.4L1251.9 294.3L1253.5 296.3L1255.1 296.2L1256.7 297.7L1258.3 298.2L1259.9 295.6L1261.5 297.5L1263.1 295.2L1264.7 295.1L1266.3 295.0L1267.9 296.4L1269.5 297.1L1271.1 294.1L1272.7 295.7L1274.3 295.6L1275.9 294.9L1277.5 293.2L1279.1 290.4L1280.7 289.4L1282.3 290.9L1283.9 291.5L1285.5 291.7L1287.1 293.1L1288.7 293.5L1290.3 296.0L1291.9 293.1L1293.5 293.8L1295.0 292.5L1296.6 288.9L1298.2 289.8L1299.8 289.6L1301.4 289.9L1303.0 292.3L1304.6 293.2L1306.2 294.8L1307.8 293.8L1309.4 292.2L1311.0 290.7L1312.6 290.3L1314.2 291.6L1315.8 293.3L1317.4 291.9L1319.0 290.8L1320.6 294.3L1322.2 291.9L1323.8 293.6L1325.4 292.5L1327.0 291.5L1328.6 292.5L1330.2 292.0L1331.8 290.9L1333.4 292.1L1335.0 289.6L1336.6 288.7L1338.2 288.5L1339.8 291.1L1341.4 290.5L1343.0 290.4L1344.6 289.6L1346.2 288.1L1347.8 289.8L1349.4 289.3L1351.0 287.7L1352.6 289.1L1354.2 287.7L1355.8 288.4L1357.4 291.0L1359.0 289.5L1360.6 288.6L1362.2 289.2L1363.8 285.2L1365.4 287.8L1367.0 290.6L1368.6 289.1L1370.2 288.7L1371.8 287.2L1373.4 282.9L1375.0 285.7L1376.6 285.4L1378.2 287.9L1379.8 289.2L1381.4 289.1L1383.0 288.1L1384.6 288.2L1386.2 287.3L1387.8 288.1L1389.4 289.4L1391.0 289.0L1392.6 285.9L1394.2 288.3L1395.8 285.6L1397.4 282.9L1399.0 286.7L1400.6 284.6L1402.2 283.9L1403.8 290.0L1405.4 285.6L1407.0 284.4L1408.6 286.6L1410.2 282.5L1411.8 287.7L1413.4 283.7L1415.0 284.1L1416.6 286.7L1418.2 285.3L1419.8 287.9L1421.4 284.7L1423.0 283.7L1424.6 281.9L1426.2 280.9L1427.8 284.5L1429.4 283.4L1431.0 285.1L1432.6 290.0L1434.2 284.3L1435.8 281.8L1437.4 282.7L1439.0 280.0L1440.6 282.5L1442.2 286.6L1443.8 285.5L1445.4 284.6L1447.0 283.2L1448.6 284.0L1450.2 287.8L1451.8 287.1L1453.4 284.7L1455.0 281.3L1456.6 283.5L1458.2 285.5L1459.8 284.5L1461.4 281.4L1463.0 279.5L1464.6 283.3L1466.2 281.2L1467.8 279.1"/>
<path stroke="#f00" stroke-width="9.6" d="M320.2 1032.1L321.8 1030.7L323.4 1033.4L325.0 1034.4L326.6 1032.8L328.2 1030.0L329.8 1031.0L331.4 1033.7L333.0 1033.9L334.6 1032.9L336.2 1030.9L337.8 1031.6L339.4 1032.3L341.0 1032.3L342.6 1031.6L344.2 1032.6L345.8 1031.8L347.4 1031.1L349.0 1028.7L350.6 1030.3L352.2 1029.3L353.8 1031.8L355.4 1029.9L357.0 1030.1L358.6 1031.1L360.2 1030.7L361.8 1029.1L363.4 1030.3L365.0 1028.7L366.6 1027.3L368.2 1026.7L369.8 1026.4L371.4 1030.3L373.0 1029.3L374.6 1030.3L376.2 1028.3L377.8 1028.8L379.4 1028.7L381.0 1028.2L382.6 1029.5L384.2 1028.9L385.8 1029.7L387.4 1026.1L389.0 1028.2L390.6 1028.3L392.2 1030.6L393.8 1031.0L395.4 1030.2L397.0 1027.6L398.6 1026.7L400.2 1027.0L401.8 1028.3L403.4 1025.3L405.0 1028.0L406.6 1028.7L408.2 1027.1L409.8 1028.4L411.4 1027.2L413.0 1025.8L414.6 1026.6L416.2 1026.2L417.8 1026.4L419.4 1027.4L421.0 1030.9L422.6 1029.5L424.2 1027.4L425.8 1028.7L427.4 1027.8L429.0 1026.4L430.6 1024.4L432.2 1027.1L433.8 1026.9L435.4 1025.8L437.0 1025.0L438.6 1027.1L440.2 1023.7L441.8 1025.8L443.4 1024.1L445.0 1025.0L446.6 1024.5L448.2 1022.8L449.8 1023.3L451.4 1024.1L453.0 1025.7L454.6 1025.8L456.2 1026.7L457.8 1022.8L459.4 1025.6L461.0 1027.8L462.6 1023.5L464.2 1022.3L465.8 1023.8L467.4 1022.8L469.0 1024.4L470.6 1024.6L472.2 1023.3L473.8 1022.9L475.4 1023.7L477.0 1021.5L478.6 1021.7L480.2 1022.4L481.8 1024.1L483.4 1023.1L485.0 1023.2L486.6 1022.9L488.2 1021.7L489.8 1022.8L491.4 1022.1L493.0 1021.2L494.6 1021.3L496.2 1019.1L497.8 1022.8L499.4 1022.1L501.0 1023.0L502.6 1022.0L504.2 1018.8L505.8 1022.1L507.4 1021.7L509.0 1020.4L510.6 1020.5L512.1 1019.6L513.7 1021.8L515.3 1019.8L516.9 1021.1L518.5 1021.7L520.1 1020.0L521.7 1019.4L523.3 1020.3L524.9 1020.7L526.5 1020.0L528.1 1019.5L529.7 1019.4L531.3 1020.2L532.9 1021.7L534.5 1018.4L536.1 1018.3L537.7 1019.6L539.3 1020.4L540.9 1019.6L542.5 1018.9L544.1 1020.4L545.7 1017.2L547.3 1016.9L548.9 1017.5L550.5 1016.9L552.1 1016.7L553.7 1015.7L555.3 1016.2L556.9 1015.1L558.5 1014.3L560.1 1015.9L561.7 1016.4L563.2 1017.0L564.8 1016.4L566.4 1016.6L568.0 1015.8L569.6 1015.1L571.2 1014.5L572.8 1015.9L574.4 1014.0L576.0 1014.6L577.6 1014.5L579.2 1014.8L580.8 1016.3L582.4 1014.4L584.0 1015.7L585.5 1013.0L587.1 1013.1L588.7 1011.4L590.3 1011.7L591.9 1011.6L593.5 1010.7L595.1 1011.7L596.7 1010.3L598.3 1011.4L599.8 1011.3L601.4 1012.1L603.0 1011.0L604.6 1010.3L606.2 1011.2L607.8 1012.1L609.4 1011.0L611.0 1010.0L612.5 1010.1L614.1 1010.9L615.7 1010.7L617.3 1010.0L618.9 1012.1L620.5 1010.5L622.1 1007.7L623.7 1009.4L625.2 1008.8L626.8 1006.4L628.4 1006.4L630.0 1006.0L631.6 1006.8L633.2 1008.2L634.8 1004.1L636.3 1005.2L637.9 1005.5L639.5 1003.9L641.1 1004.1L642.7 1004.7L644.2 1006.0L645.8 1005.2L647.4 1004.8L649.0 1005.0L650.6 1005.1L652.1 1005.0L653.7 1003.9L655.3 1003.8L656.9 1002.6L658.4 1001.3L660.0 1001.4L661.6 1001.5L663.2 999.8L664.7 999.9L666.3 1001.9L667.9 1001.6L669.4 1000.4L671.0 1000.9L672.6 999.1L674.1 1000.9L675.7 1001.4L677.2 998.4L678.8 997.6L680.4 999.3L681.9 997.9L683.5 995.9L685.0 997.5L686.6 997.9L688.2 997.8L689.7 997.3L691.3 997.7L692.9 996.2L694.4 996.5L696.0 994.7L697.5 991.6L699.1 993.6L700.6 992.1L702.2 991.0L703.7 993.9L705.3 992.1L706.8 991.4L708.4 991.1L709.9 989.6L711.5 990.0L713.0 989.1L714.6 989.2L716.1 988.7L717.6 988.9L719.2 985.4L720.7 986.3L722.2 987.4L723.7 984.3L725.3 983.3L726.8 984.4L728.3 985.0L729.8 984.9L731.3 982.5L732.8 982.9L734.3 983.1L735.8 981.2L737.3 981.4L738.8 980.8L740.3 978.2L741.8 978.0L743.2 977.1L744.7 977.3L746.2 976.0L747.7 976.7L749.2 975.3L750.6 974.3L752.1 975.0L753.6 975.8L755.0 973.7L756.5 973.2L758.0 971.8L759.4 972.1L760.8 970.6L762.3 969.1L763.7 966.7L765.1 965.9L766.6 966.6L768.0 965.3L769.4 966.5L770.8 964.5L772.2 964.4L773.6 962.6L774.9 962.5L776.3 962.5L777.7 962.5L779.1 959.9L780.5 959.7L781.8 958.3L783.2 957.5L784.5 959.3L785.9 956.6L787.2 956.0L788.5 954.4L789.8 953.1L791.1 954.4L792.3 952.7L793.5 951.1L794.7 949.5L795.9 947.6L797.1 948.0L798.2 946.9L799.4 945.0L800.6 946.1L801.7 941.9L802.9 942.6L804.0 939.8L805.1 939.2L806.2 936.6L807.3 935.7L808.4 935.6L809.5 936.4L810.6 934.1L811.6 932.3L812.7 930.7L813.7 930.9L814.7 929.8L815.7 928.5L816.7 926.3L817.6 925.6L818.6 924.0L819.5 921.7L820.4 921.1L821.3 918.7L822.2 917.8L823.0 917.0L823.8 914.9L824.6 913.7L825.3 912.9L826.1 911.9L826.8 910.3L827.5 908.5L828.2 906.4L828.9 905.3L829.6 904.5L830.3 903.8L831.0 901.5L831.6 899.7L832.3 897.6L833.0 897.0L833.7 896.3L834.4 893.8L835.2 892.6L835.9 891.9L836.7 889.1L837.5 887.7L838.3 886.7L839.2 885.4L840.0 884.6L841.0 882.6L841.9 881.7L842.8 880.6L843.7 879.2L844.7 878.3L845.6 876.1L846.4 874.2L847.3 873.0L848.1 872.9L848.8 871.2L849.5 869.8L850.2 868.0L850.8 867.4L851.4 866.2L852.0 864.2L852.6 862.0L853.1 860.7L853.7 858.4L854.2 857.7L854.7 856.1L855.2 854.7L855.7 853.3L856.2 851.3L856.7 850.3L857.2 848.9L857.7 847.1L858.1 845.6L858.6 843.6L859.1 842.3L859.6 840.6L860.0 839.3L860.5 837.4L861.0 836.0L861.5 834.5L862.0 833.5L862.5 831.5L863.0 830.2L863.4 828.3L863.9 826.8L864.4 825.2L864.9 823.5L865.3 822.1L865.8 821.0L866.2 819.3L866.7 817.7L867.1 816.5L867.6 814.6L868.0 812.7L868.4 811.4L868.9 809.9L869.3 808.3L869.7 806.6L870.1 805.4L870.5 803.6L870.9 802.4L871.3 800.6L871.7 799.0L872.0 797.9L872.4 796.0L872.8 794.4L873.2 793.4L873.5 791.7L873.9 790.1L874.3 788.6L874.6 786.7L875.0 785.3L875.3 783.6L875.7 782.3L876.0 780.6L876.3 778.5L876.7 777.1L877.0 776.1L877.3 774.5L877.6 772.8L877.9 771.5L878.2 769.4L878.5 767.9L878.9 766.3L879.2 764.7L879.5 763.3L879.8 762.0L880.1 761.0L880.5 759.2L880.8 757.1L881.1 755.2L881.5 753.8L881.9 752.7L882.2 750.9L882.6 749.2L883.0 747.9L883.4 745.7L883.8 744.6L884.1 742.9L884.5 741.6L884.9 739.6L885.2 738.4L885.6 736.9L885.9 734.9L886.2 733.7L886.5 732.1L886.8 730.3L887.1 728.6L887.4 727.6L887.7 725.6L887.9 724.1L888.2 722.1L888.4 721.2L888.7 719.2L888.9 717.6L889.1 716.1L889.3 714.6L889.6 712.9L889.8 711.5L890.0 709.9L890.2 708.4L890.5 706.6L890.7 704.8L890.9 703.7L891.1 701.9L891.4 700.2L891.6 698.2L891.8 697.1L892.1 695.2L892.3 693.9L892.6 692.2L892.8 690.6L893.0 689.0L893.3 687.6L893.5 686.2L893.7 684.1L894.0 682.3L894.2 681.1L894.5 679.6L894.7 678.1L894.9 676.8L895.2 675.3L895.4 673.3L895.6 671.5L895.9 670.1L896.1 668.8L896.3 667.3L896.5 665.6L896.8 663.7L897.0 662.1L897.2 660.9L897.4 659.4L897.7 657.5L897.9 655.8L898.1 653.8L898.3 652.1L898.6 650.8L898.8 649.6L899.0 647.9L899.2 646.6L899.5 645.0L899.7 643.0L899.9 641.3L900.1 639.6L900.3 637.9L900.6 636.7L900.8 635.0L901.0 633.5L901.2 631.9L901.4 630.3L901.7 628.7L901.9 627.6L902.1 626.1L902.3 624.2L902.5 622.4L902.7 621.0L903.0 619.4L903.2 618.1L903.4 616.0L903.6 614.4L903.8 612.5L904.0 611.3L904.2 609.8L904.5 608.2L904.7 606.2L904.9 604.7L905.1 603.2L905.3 602.2L905.5 600.6L905.7 599.2L906.0 597.3L906.2 595.3L906.4 593.8L906.6 592.5L906.9 590.3L907.1 589.3L907.4 587.3L907.6 585.6L907.9 584.2L908.1 582.4L908.4 581.4L908.6 579.8L908.8 578.2L909.1 576.4L909.3 574.9L909.5 572.9L909.7 571.7L909.9 570.2L910.2 568.9L910.4 566.9L910.5 565.2L910.7 563.9L910.9 562.5L911.1 561.1L911.3 558.9L911.5 557.2L911.7 555.7L911.9 554.0L912.0 552.4L912.2 550.8L912.4 549.8L912.6 547.8L912.7 546.1L912.9 544.3L913.1 542.7L913.2 541.5L913.4 539.8L913.6 538.6L913.8 536.4L913.9 535.4L914.1 533.4L914.3 532.1L914.5 530.6L914.7 529.1L914.8 527.3L915.0 525.5L915.2 523.7L915.4 522.3L915.6 520.5L915.8 518.9L916.0 516.9L916.2 515.9L916.4 514.3L916.6 512.6L916.8 511.1L917.0 509.4L917.2 508.1L917.4 506.6L917.6 505.1L917.8 503.5L918.0 502.0L918.2 500.2L918.4 498.9L918.6 497.2L918.8 495.3L919.0 494.1L919.2 492.6L919.4 490.8L919.6 489.3L919.8 487.8L920.0 485.4L920.2 484.0L920.4 482.7L920.7 481.2L920.9 479.9L921.1 478.3L921.3 477.0L921.5 474.8L921.7 473.3L921.9 471.3L922.1 469.8L922.4 468.8L922.6 466.4L922.8 464.9L923.0 463.2L923.2 462.0L923.5 460.5L923.7 458.9L923.9 456.8L924.2 455.8L924.4 454.4L924.7 452.4L924.9 451.4L925.2 449.1L925.4 447.9L925.7 445.9L925.9 444.5L926.2 443.0L926.4 441.7L926.7 439.5L926.9 438.2L927.2 437.0L927.4 435.0L927.6 433.5L927.8 431.7L928.1 430.3L928.3 428.6L928.5 427.0L928.7 425.5L928.8 424.3L929.0 422.3L929.2 420.4L929.4 418.9L929.6 417.2L929.8 415.6L930.0 414.3L930.2 412.5L930.5 411.2L930.7 409.9L930.9 408.5L931.2 406.3L931.4 404.6L931.7 403.0L932.0 401.8L932.2 400.7L932.5 398.5L932.8 397.0L933.1 395.6L933.4 394.1L933.7 392.5L933.9 391.4L934.2 389.1L934.5 387.3L934.8 385.6L935.2 384.4L935.5 383.2L935.8 381.9L936.1 380.0L936.4 377.6L936.8 376.0L937.1 374.8L937.4 373.1L937.8 371.4L938.1 370.1L938.5 368.5L938.8 367.0L939.2 365.8L939.6 364.5L939.9 362.9L940.3 360.6L940.7 359.9L941.0 358.1L941.4 356.5L941.8 354.7L942.1 353.3L942.5 351.2L942.8 350.0L943.2 348.4L943.5 346.5L943.9 345.8L944.2 343.4L944.6 341.5L945.0 341.0L945.3 339.2L945.7 337.9L946.1 336.2L946.4 334.0L946.8 333.6L947.2 331.1L947.6 329.4L948.0 328.0L948.4 325.4L948.8 324.8L949.2 324.2L949.6 322.0L950.0 320.3L950.5 319.2L950.9 318.6L951.4 317.3L951.9 313.8L952.3 313.4L952.8 310.6L953.3 308.9L953.9 309.2L954.4 306.9L954.9 304.8L955.5 302.8L956.1 301.0L956.7 299.4L957.3 298.8L957.9 297.7L958.6 296.4L959.2 294.5L959.9 293.8L960.6 292.8L961.3 289.1L962.0 287.8L962.7 286.3L963.5 285.8L964.2 285.2L965.0 283.7L965.8 282.6L966.6 281.2L967.3 280.5L968.2 277.7L969.0 276.0L969.8 274.1L970.6 273.2L971.5 272.7L972.3 269.3L973.2 268.2L974.0 267.2L974.9 265.7L975.8 265.4L976.8 263.4L977.7 263.3L978.6 260.7L979.6 259.0L980.5 257.7L981.5 256.8L982.5 255.9L983.5 254.6L984.5 252.9L985.6 252.6L986.6 250.6L987.7 249.0L988.7 249.7L989.8 249.7L990.9 246.9L992.0 245.8L993.1 245.2L994.2 244.7L995.3 243.7L996.5 243.2L997.6 241.0L998.8 240.8L1000.1 240.3L1001.3 237.8L1002.6 234.6L1003.9 233.2L1005.2 233.5L1006.5 232.5L1007.9 232.2L1009.3 231.4L1010.6 231.2L1012.0 229.8L1013.4 229.8L1014.7 229.0L1016.1 227.6L1017.5 226.5L1018.9 223.4L1020.2 224.9L1021.6 225.1L1023.1 222.9L1024.5 221.7L1025.9 220.7L1027.3 220.7L1028.7 221.6L1030.2 220.3L1031.6 220.3L1033.1 218.6L1034.5 215.7L1036.0 216.4L1037.5 215.7L1038.9 214.1L1040.4 215.6L1041.9 213.5L1043.4 213.5L1044.9 213.5L1046.3 212.7L1047.8 212.7L1049.3 210.5L1050.8 210.1L1052.3 210.2L1053.8 208.9L1055.3 210.1L1056.8 211.5L1058.3 207.4L1059.8 207.6L1061.3 206.0L1062.8 206.8L1064.3 207.7L1065.8 206.9L1067.4 204.3L1068.9 203.6L1070.4 204.1L1071.9 202.6L1073.5 202.7L1075.0 202.0L1076.5 202.7L1078.1 203.9L1079.6 201.6L1081.2 199.9L1082.7 200.7L1084.3 198.1L1085.8 198.3L1087.4 196.5L1088.9 196.8L1090.5 196.0L1092.1 197.0L1093.6 211.8L1095.2 213.2L1096.7 205.7L1098.3 194.4L1099.8 195.8L1101.4 194.2L1103.0 195.4L1104.5 194.0L1106.1 192.9L1107.7 192.7L1109.2 193.9L1110.8 192.5L1112.3 192.2L1113.9 191.5L1115.5 190.3L1117.0 191.7L1118.6 192.1L1120.1 193.4L1121.7 189.9L1123.3 190.8L1124.9 188.8L1126.4 188.8L1128.0 187.8L1129.6 188.2L1131.1 187.9L1132.7 188.3L1134.3 187.6L1135.9 188.7L1137.4 186.7L1139.0 188.7L1140.6 188.0L1142.2 187.4L1143.8 186.5L1145.3 186.2L1146.9 186.9L1148.5 185.8L1150.1 188.1L1151.7 186.7L1153.3 185.4L1154.8 185.4L1156.4 183.5L1158.0 183.9L1159.6 183.2L1161.2 184.4L1162.8 182.6L1164.4 182.0L1165.9 183.9L1167.5 181.4L1169.1 183.1L1170.7 183.5L1172.3 181.4L1173.9 179.6L1175.5 180.0L1177.0 180.8L1178.6 181.5L1180.2 181.6L1181.8 180.6L1183.4 179.9L1185.0 180.9L1186.6 179.6L1188.2 181.8L1189.7 179.9L1191.3 180.3L1192.9 180.7L1194.5 177.3L1196.1 177.5L1197.7 178.4L1199.3 179.3L1200.9 177.0L1202.5 177.4L1204.0 178.3L1205.6 180.2L1207.2 177.3L1208.8 176.4L1210.4 176.2L1212.0 177.6L1213.6 178.8L1215.2 176.0L1216.8 176.4L1218.4 175.4L1220.0 178.3L1221.6 176.9L1223.2 175.2L1224.8 175.3L1226.3 173.3L1227.9 173.5L1229.5 173.3L1231.1 173.5L1232.7 174.4L1234.3 175.2L1235.9 175.4L1237.5 173.2L1239.1 173.8L1240.7 175.9L1242.3 174.2L1243.9 173.6L1245.5 173.9L1247.1 173.0L1248.7 173.9L1250.3 170.5L1251.9 172.4L1253.5 173.5L1255.1 172.6L1256.7 172.2L1258.3 171.2L1259.9 171.5L1261.5 171.0L1263.1 171.4L1264.7 171.8L1266.3 172.6L1267.9 172.5L1269.5 171.7L1271.1 172.5L1272.7 170.6L1274.3 171.0L1275.9 169.5L1277.4 169.3L1279.0 170.3L1280.6 166.9L1282.2 167.4L1283.8 169.8L1285.4 169.3L1287.0 170.2L1288.6 170.8L1290.2 169.8L1291.8 170.0L1293.4 168.5L1295.0 170.5L1296.6 169.2L1298.2 167.5L1299.8 168.0L1301.4 166.3L1303.0 165.5L1304.6 168.8L1306.2 168.9L1307.8 169.1L1309.4 166.7L1311.0 168.1L1312.6 170.4L1314.2 169.4L1315.8 168.7L1317.4 168.2L1319.0 167.9L1320.6 167.5L1322.2 168.3L1323.8 167.6L1325.4 167.8L1327.0 167.8L1328.6 167.6L1330.2 166.1L1331.8 166.2L1333.4 165.7L1335.0 167.2L1336.6 168.8L1338.2 167.5L1339.8 165.7L1341.4 166.1L1343.0 166.8L1344.6 168.2L1346.2 166.3L1347.8 167.0L1349.4 168.3L1351.0 166.1L1352.6 165.7L1354.2 164.0L1355.8 166.5L1357.4 167.5L1359.0 165.9L1360.6 163.4L1362.2 164.2L1363.8 163.9L1365.4 166.3L1367.0 164.9L1368.6 166.7L1370.2 167.7L1371.8 164.7L1373.4 163.0L1375.0 164.8L1376.6 164.2L1378.2 163.4L1379.8 164.1L1381.4 163.9L1383.0 163.4L1384.6 164.7L1386.2 165.5L1387.8 163.6L1389.4 160.4L1391.0 162.8L1392.6 163.7L1394.2 160.7L1395.8 163.1L1397.4 164.0L1399.0 160.6L1400.6 161.0L1402.2 161.0L1403.8 164.9L1405.4 161.5L1407.0 162.3L1408.6 160.8L1410.2 160.8L1411.8 158.9L1413.4 159.6L1415.0 158.4L1416.6 161.4L1418.2 159.8L1419.8 160.0L1421.4 161.5L1423.0 163.2L1424.6 162.1L1426.2 162.6L1427.8 162.1L1429.4 161.9L1431.0 162.0L1432.6 160.8L1434.2 160.3L1435.8 161.7L1437.4 161.8L1439.0 160.3L1440.6 160.8L1442.2 160.9L1443.8 161.5L1445.4 163.0L1447.0 161.1L1448.6 161.5L1450.2 160.2L1451.8 160.0L1453.4 160.0L1455.0 157.9L1456.6 159.8L1458.2 157.3L1459.8 157.6L1461.4 154.1L1463.0 158.2L1464.6 159.3L1466.2 157.9L1467.8 156.8"/>
<path stroke="#f00" stroke-width="9.6" d="M320.2 1032.5L321.8 1033.1L323.4 1027.5L325.0 1030.2L326.6 1031.6L328.2 1031.6L329.8 1033.0L331.4 1033.8L333.0 1032.0L334.6 1032.9L336.2 1031.1L337.8 1032.0L339.4 1034.8L341.0 1034.9L342.6 1034.2L344.2 1035.6L345.8 1033.0L347.4 1032.4L349.0 1030.2L350.6 1032.1L352.2 1031.8L353.8 1030.3L355.4 1029.5L357.0 1031.8L358.6 1028.7L360.2 1030.8L361.8 1028.7L363.4 1030.1L365.0 1030.8L366.6 1032.2L368.2 1030.9L369.8 1026.6L371.4 1029.6L373.0 1027.3L374.6 1026.7L376.2 1029.0L377.8 1027.5L379.4 1026.5L381.0 1028.6L382.6 1029.6L384.2 1027.5L385.8 1027.8L387.4 1025.2L389.0 1026.7L390.6 1029.5L392.2 1028.8L393.8 1030.1L395.4 1027.7L397.0 1026.9L398.6 1028.1L400.2 1029.2L401.8 1026.9L403.4 1027.9L405.0 1025.9L406.6 1028.3L408.2 1028.0L409.8 1028.3L411.4 1029.0L413.0 1023.9L414.6 1023.5L416.2 1026.5L417.8 1025.6L419.4 1028.8L421.0 1025.6L422.6 1024.7L424.2 1026.2L425.8 1026.8L427.4 1026.1L429.0 1025.5L430.6 1026.3L432.2 1027.2L433.8 1026.7L435.4 1026.6L437.0 1025.0L438.6 1025.2L440.2 1025.1L441.8 1027.5L443.4 1026.6L445.0 1026.2L446.6 1026.2L448.2 1025.6L449.8 1025.5L451.4 1027.1L453.0 1024.3L454.6 1023.4L456.2 1024.8L457.8 1023.8L459.4 1025.3L461.0 1026.2L462.6 1025.2L464.2 1022.5L465.8 1023.6L467.4 1025.7L469.0 1024.1L470.6 1024.5L472.2 1024.8L473.8 1023.5L475.4 1025.5L477.0 1026.2L478.6 1026.0L480.2 1022.7L481.8 1022.7L483.4 1023.5L485.0 1023.8L486.6 1022.2L488.2 1020.9L489.8 1022.7L491.4 1022.1L493.0 1019.3L494.6 1020.3L496.2 1021.7L497.8 1021.3L499.4 1021.4L501.0 1020.7L502.6 1020.7L504.2 1021.6L505.8 1021.4L507.4 1020.7L509.0 1021.6L510.6 1020.9L512.1 1021.7L513.7 1019.5L515.3 1018.3L516.9 1020.5L518.5 1019.2L520.1 1019.5L521.7 1019.6L523.3 1019.9L524.9 1019.3L526.5 1018.2L528.1 1020.2L529.7 1018.4L531.3 1019.0L532.9 1020.1L534.5 1019.2L536.1 1018.0L537.7 1018.3L539.3 1017.9L540.9 1018.4L542.5 1015.3L544.1 1003.5L545.7 1004.7L547.3 1012.8L548.9 1016.7L550.5 1017.3L552.1 1017.3L553.7 1017.3L555.3 1016.9L556.9 1016.7L558.5 1016.6L560.1 1018.4L561.7 1019.1L563.2 1016.6L564.8 1016.7L566.4 1016.5L568.0 1015.9L569.6 1016.6L571.2 1013.8L572.8 1014.5L574.4 1014.7L576.0 1015.7L577.6 1013.8L579.2 1013.2L580.8 1012.0L582.4 1012.1L584.0 1013.9L585.5 1014.9L587.1 1012.3L588.7 1013.4L590.3 1013.1L591.9 1012.9L593.5 1012.0L595.1 1011.5L596.7 1012.9L598.3 1012.9L599.8 1013.9L601.4 1011.6L603.0 1011.5L604.6 1013.0L606.2 1010.4L607.8 1010.5L609.4 1011.4L611.0 1011.0L612.5 1010.9L614.1 1010.0L615.7 1009.4L617.3 1009.9L618.9 1008.8L620.5 1011.5L622.1 1009.9L623.6 1008.1L625.2 1007.0L626.8 1006.6L628.4 1008.3L630.0 1009.4L631.6 1008.2L633.2 1004.7L634.7 1005.5L636.3 1006.7L637.9 1008.0L639.5 1006.3L641.1 1006.1L642.7 1004.9L644.2 1004.6L645.8 1007.0L647.4 1005.3L649.0 1003.6L650.6 1004.2L652.1 1004.9L653.7 1004.9L655.3 1004.9L656.9 1000.9L658.4 1000.2L660.0 1001.9L661.6 1000.2L663.1 1002.0L664.7 1001.8L666.3 1001.8L667.9 1001.0L669.4 999.6L671.0 997.4L672.5 997.8L674.1 998.6L675.7 998.4L677.2 998.5L678.8 997.7L680.3 998.5L681.9 997.4L683.5 996.5L685.0 995.4L686.6 996.7L688.2 995.6L689.7 995.1L691.3 995.8L692.8 997.1L694.4 995.7L695.9 993.5L697.5 993.7L699.1 990.7L700.6 991.2L702.2 992.5L703.7 992.0L705.3 991.0L706.8 990.3L708.4 990.5L709.9 989.6L711.5 986.2L713.0 987.0L714.5 987.7L716.1 988.3L717.6 989.6L719.1 987.7L720.6 987.3L722.2 986.5L723.7 986.4L725.2 984.6L726.7 983.3L728.2 984.4L729.7 985.2L731.2 983.3L732.7 981.2L734.2 981.1L735.7 980.6L737.2 982.1L738.7 981.4L740.2 979.5L741.7 978.7L743.1 978.4L744.6 977.3L746.1 976.1L747.6 976.2L749.1 976.6L750.5 977.0L752.0 975.0L753.5 974.3L754.9 973.6L756.4 971.5L757.8 972.2L759.3 971.5L760.7 969.8L762.1 970.4L763.5 971.4L764.9 969.6L766.4 967.0L767.8 967.1L769.1 966.3L770.5 967.2L771.9 963.7L773.3 965.1L774.6 963.9L776.0 962.4L777.4 959.1L778.7 959.3L780.1 959.6L781.5 960.0L782.8 958.3L784.1 958.0L785.4 956.6L786.7 954.8L787.9 952.3L789.2 953.2L790.4 950.2L791.5 952.0L792.7 947.8L793.8 948.4L794.9 947.6L796.0 946.6L797.1 944.8L798.2 943.7L799.3 942.8L800.3 942.1L801.4 940.9L802.4 939.0L803.5 938.2L804.5 937.2L805.5 936.7L806.5 934.3L807.5 932.1L808.4 932.0L809.4 929.1L810.3 928.2L811.2 926.9L812.2 927.3L813.1 924.4L814.0 922.0L814.8 919.6L815.7 920.2L816.5 919.1L817.4 917.1L818.2 915.7L819.0 915.3L819.8 913.7L820.7 911.5L821.4 910.2L822.2 909.3L823.0 907.2L823.8 907.5L824.5 905.2L825.3 904.2L826.0 902.8L826.7 900.4L827.4 898.0L828.1 897.2L828.8 896.1L829.4 893.8L830.1 892.6L830.7 893.2L831.3 891.4L831.9 889.8L832.5 888.3L833.1 887.3L833.6 884.7L834.1 883.1L834.7 880.6L835.2 879.9L835.7 878.4L836.1 877.4L836.6 875.1L837.1 873.1L837.5 871.2L838.0 869.9L838.4 869.3L838.8 867.1L839.2 866.5L839.6 865.1L840.0 863.4L840.4 860.6L840.8 860.1L841.2 859.0L841.6 857.0L841.9 854.8L842.3 853.3L842.7 851.8L843.0 850.9L843.4 849.4L843.8 847.0L844.1 845.8L844.5 844.6L844.8 843.1L845.2 840.8L845.5 838.8L845.9 837.7L846.2 836.8L846.6 834.4L847.0 833.5L847.3 831.9L847.7 830.2L848.1 828.7L848.4 827.3L848.8 825.0L849.2 823.8L849.5 823.0L849.9 821.4L850.2 819.1L850.6 817.8L850.9 816.7L851.2 814.5L851.6 812.9L851.9 811.5L852.2 809.8L852.5 808.5L852.8 806.8L853.2 805.1L853.5 803.9L853.8 801.8L854.1 800.8L854.3 798.4L854.6 797.2L854.9 795.7L855.2 794.6L855.5 792.6L855.8 791.3L856.0 789.5L856.3 787.9L856.6 786.6L856.8 784.4L857.1 783.0L857.3 781.7L857.5 780.2L857.8 778.4L858.0 776.9L858.2 775.0L858.4 773.8L858.6 772.1L858.8 770.6L859.0 769.2L859.2 767.2L859.3 765.9L859.5 764.6L859.7 762.6L859.9 761.1L860.2 759.3L860.4 757.6L860.6 756.0L860.8 754.5L861.1 752.6L861.3 751.6L861.6 749.6L861.8 748.2L862.1 746.6L862.3 745.2L862.6 743.3L862.8 741.8L863.1 740.4L863.3 738.8L863.6 737.1L863.8 735.6L864.1 733.4L864.3 732.1L864.5 730.8L864.8 729.0L865.0 727.5L865.2 726.2L865.4 724.6L865.6 723.4L865.9 721.3L866.1 719.4L866.3 718.1L866.5 716.7L866.7 715.5L866.9 713.9L867.1 712.0L867.3 710.5L867.6 708.8L867.8 707.3L868.0 705.6L868.2 704.0L868.4 702.3L868.6 700.7L868.8 699.0L869.0 697.7L869.2 696.1L869.4 694.7L869.6 693.0L869.8 691.3L870.0 689.5L870.2 688.3L870.4 686.7L870.6 685.1L870.8 683.6L871.0 681.8L871.2 680.2L871.4 678.7L871.6 676.5L871.8 675.3L872.0 673.6L872.2 672.5L872.4 670.4L872.6 668.8L872.8 667.2L873.0 666.2L873.2 664.3L873.4 662.8L873.5 660.9L873.7 659.3L873.9 657.9L874.1 656.3L874.3 654.3L874.4 652.6L874.6 651.7L874.8 650.0L875.0 648.1L875.1 646.7L875.3 645.0L875.5 643.5L875.7 641.4L875.8 639.9L876.0 638.6L876.2 636.7L876.4 635.2L876.6 633.3L876.7 632.2L876.9 631.0L877.1 629.0L877.3 627.5L877.5 626.3L877.7 625.5L877.9 623.1L878.1 621.2L878.3 619.8L878.5 618.2L878.7 616.4L878.9 615.1L879.1 613.0L879.3 611.9L879.5 610.1L879.7 608.4L879.9 607.0L880.1 605.5L880.4 603.5L880.6 602.4L880.8 600.6L881.0 598.5L881.3 597.4L881.5 596.1L881.7 594.4L881.9 593.4L882.2 591.5L882.4 589.9L882.6 588.2L882.9 586.6L883.1 584.6L883.4 583.0L883.6 581.7L883.9 579.6L884.1 578.5L884.3 576.4L884.6 575.1L884.8 573.8L885.0 572.2L885.3 570.1L885.5 568.7L885.7 567.2L885.9 566.0L886.2 564.2L886.4 562.6L886.6 561.0L886.8 559.5L887.1 558.2L887.3 555.9L887.5 554.7L887.7 552.8L887.9 551.2L888.2 549.6L888.4 548.1L888.6 546.4L888.8 545.0L889.0 543.4L889.2 541.7L889.5 540.1L889.7 538.7L889.9 537.8L890.1 535.7L890.3 534.3L890.6 532.1L890.8 530.3L891.0 528.9L891.2 527.4L891.5 526.4L891.7 524.6L891.9 523.0L892.1 520.8L892.4 519.8L892.6 517.5L892.8 516.3L893.1 515.3L893.3 512.9L893.5 511.6L893.8 510.0L894.0 508.2L894.3 507.2L894.5 505.6L894.7 503.8L895.0 501.8L895.2 500.5L895.4 498.8L895.7 497.8L895.9 495.8L896.2 494.5L896.4 492.8L896.6 491.1L896.9 489.2L897.1 488.0L897.3 486.2L897.5 484.8L897.8 483.0L898.0 481.6L898.2 479.6L898.4 478.5L898.7 477.1L898.9 475.0L899.1 473.7L899.3 471.9L899.6 470.2L899.8 469.2L900.1 467.5L900.3 465.9L900.6 464.2L900.9 462.9L901.2 461.0L901.5 459.4L901.8 458.1L902.1 456.3L902.4 454.7L902.8 453.5L903.1 451.7L903.5 449.8L903.9 448.2L904.2 447.1L904.6 445.6L905.0 443.8L905.4 442.1L905.8 440.4L906.1 439.0L906.5 437.3L906.9 436.0L907.2 433.9L907.5 432.7L907.9 431.5L908.2 429.9L908.5 428.7L908.8 426.9L909.1 425.2L909.5 423.3L909.8 421.5L910.1 420.4L910.4 418.9L910.7 417.0L911.0 415.2L911.3 413.7L911.7 412.2L912.0 411.1L912.3 409.5L912.7 408.2L913.0 406.5L913.4 404.4L913.7 402.5L914.1 401.4L914.5 399.7L914.8 397.9L915.2 396.9L915.6 395.6L916.0 394.0L916.3 392.8L916.7 390.6L917.1 389.0L917.5 387.5L917.9 385.9L918.3 384.2L918.7 382.8L919.1 381.6L919.6 379.6L920.0 378.3L920.4 376.6L920.9 375.2L921.3 373.6L921.8 372.4L922.2 370.6L922.7 369.0L923.1 367.2L923.6 366.0L924.1 364.6L924.6 362.7L925.0 361.8L925.5 359.7L926.0 358.2L926.5 356.8L927.0 355.2L927.5 353.7L928.0 352.4L928.4 350.5L928.9 349.2L929.4 347.5L929.9 346.0L930.3 344.6L930.8 343.1L931.3 341.3L931.8 339.9L932.3 337.9L932.8 336.3L933.3 335.2L933.8 333.3L934.3 332.8L934.9 330.3L935.4 329.5L936.0 328.2L936.6 326.0L937.2 325.3L937.8 323.8L938.5 321.9L939.2 321.3L939.9 319.4L940.7 317.4L941.6 316.5L942.4 314.4L943.3 313.8L944.3 311.7L945.2 310.6L946.1 309.5L947.0 308.4L948.0 307.5L948.8 305.3L949.7 304.8L950.5 303.1L951.3 301.2L952.1 299.7L952.8 298.2L953.6 297.5L954.3 296.7L955.0 294.5L955.7 293.1L956.4 290.8L957.0 291.0L957.7 288.9L958.4 286.9L959.1 285.9L959.8 285.3L960.5 283.1L961.2 280.7L961.9 280.1L962.7 279.2L963.4 278.0L964.2 276.8L965.0 276.0L965.8 271.2L966.7 271.2L967.6 269.3L968.5 267.7L969.4 267.7L970.4 266.0L971.3 263.5L972.3 262.1L973.3 261.1L974.3 261.4L975.3 260.7L976.4 259.0L977.4 256.2L978.5 256.5L979.6 254.5L980.7 252.6L981.8 251.4L982.9 251.1L984.0 250.9L985.1 248.7L986.3 248.2L987.4 246.6L988.6 246.2L989.8 245.4L990.9 244.4L992.1 243.9L993.3 241.1L994.5 241.8L995.7 239.6L996.9 239.0L998.2 237.2L999.5 238.2L1000.8 236.2L1002.1 234.9L1003.5 232.4L1004.8 231.4L1006.2 231.1L1007.5 230.9L1008.9 230.2L1010.3 228.4L1011.7 226.9L1013.1 226.6L1014.4 225.4L1015.8 227.3L1017.2 224.9L1018.6 222.5L1020.0 223.1L1021.4 223.5L1022.9 221.1L1024.3 223.2L1025.7 220.3L1027.2 221.2L1028.6 219.4L1030.0 220.0L1031.5 217.0L1033.0 217.0L1034.4 217.2L1035.9 216.3L1037.4 214.1L1038.8 212.7L1040.3 213.2L1041.8 213.4L1043.3 211.3L1044.8 211.6L1046.2 212.0L1047.7 209.2L1049.2 211.5L1050.7 209.9L1052.2 207.7L1053.7 207.8L1055.2 207.6L1056.7 206.5L1058.2 207.8L1059.7 206.9L1061.2 206.3L1062.7 204.6L1064.3 204.3L1065.8 204.3L1067.3 202.7L1068.8 201.8L1070.4 203.8L1071.9 200.2L1073.4 201.0L1075.0 201.8L1076.5 199.5L1078.1 202.7L1079.6 202.3L1081.2 200.3L1082.7 200.3L1084.3 200.5L1085.8 199.4L1087.4 196.9L1088.9 197.3L1090.5 196.3L1092.0 195.8L1093.6 196.2L1095.1 196.0L1096.7 196.4L1098.3 195.4L1099.8 194.2L1101.4 194.5L1103.0 194.3L1104.5 193.4L1106.1 193.3L1107.6 192.8L1109.2 194.6L1110.8 192.7L1112.3 193.9L1113.9 191.8L1115.4 191.6L1117.0 191.7L1118.6 192.3L1120.1 190.1L1121.7 190.5L1123.3 190.4L1124.8 191.7L1126.4 188.4L1128.0 189.2L1129.6 189.6L1131.1 187.5L1132.7 187.2L1134.3 190.0L1135.9 188.3L1137.4 185.9L1139.0 186.7L1140.6 187.3L1142.2 185.7L1143.8 185.0L1145.3 186.3L1146.9 186.4L1148.5 186.1L1150.1 185.8L1151.7 186.3L1153.2 185.7L1154.8 183.9L1156.4 185.4L1158.0 183.1L1159.6 182.7L1161.2 182.1L1162.8 181.8L1164.3 183.1L1165.9 184.2L1167.5 181.6L1169.1 181.8L1170.7 181.2L1172.3 180.3L1173.9 182.2L1175.5 181.4L1177.0 181.0L1178.6 181.6L1180.2 181.6L1181.8 180.6L1183.4 179.8L1185.0 178.4L1186.6 178.2L1188.2 177.4L1189.7 178.9L1191.3 178.6L1192.9 178.7L1194.5 178.9L1196.1 179.0L1197.7 177.1L1199.3 176.1L1200.9 177.1L1202.5 180.1L1204.0 179.5L1205.6 178.8L1207.2 175.9L1208.8 175.4L1210.4 176.4L1212.0 175.7L1213.6 175.7L1215.2 176.1L1216.8 176.1L1218.4 176.8L1220.0 177.0L1221.6 176.1L1223.2 176.6L1224.8 175.2L1226.3 175.3L1227.9 175.8L1229.5 174.7L1231.1 175.3L1232.7 175.0L1234.3 175.4L1235.9 173.8L1237.5 173.7L1239.1 173.8L1240.7 173.8L1242.3 173.0L1243.9 173.6L1245.5 175.1L1247.1 171.9L1248.7 172.3L1250.3 171.7L1251.9 173.1L1253.5 174.2L1255.1 174.0L1256.7 172.1L1258.3 172.4L1259.9 172.1L1261.5 172.3L1263.1 173.3L1264.7 170.4L1266.3 171.9L1267.9 172.3L1269.5 172.6L1271.1 171.1L1272.7 169.5L1274.3 170.0L1275.9 169.8L1277.4 170.4L1279.0 168.8L1280.6 169.3L1282.2 169.2L1283.8 170.7L1285.4 168.7L1287.0 168.5L1288.6 169.6L1290.2 170.1L1291.8 169.0L1293.4 170.4L1295.0 169.3L1296.6 169.8L1298.2 170.2L1299.8 167.9L1301.4 169.4L1303.0 170.7L1304.6 167.4L1306.2 168.6L1307.8 167.0L1309.4 167.6L1311.0 168.8L1312.6 169.9L1314.2 168.6L1315.8 167.6L1317.4 168.2L1319.0 168.0L1320.6 168.4L1322.2 167.7L1323.8 167.1L1325.4 167.2L1327.0 169.3L1328.6 168.6L1330.2 167.8L1331.8 167.6L1333.4 169.1L1335.0 168.0L1336.6 168.8L1338.2 169.1L1339.8 166.7L1341.4 167.4L1343.0 165.1L1344.6 164.3L1346.2 167.6L1347.8 166.1L1349.4 167.7L1351.0 165.6L1352.6 164.2L1354.2 163.2L1355.8 163.0L1357.4 166.2L1359.0 165.2L1360.6 167.0L1362.2 165.1L1363.8 163.9L1365.4 164.6L1367.0 163.6L1368.6 165.3L1370.2 165.4L1371.8 166.2L1373.4 167.3L1375.0 165.1L1376.6 164.5L1378.2 165.5L1379.8 165.6L1381.4 166.4L1383.0 163.7L1384.6 162.9L1386.2 164.0L1387.8 164.1L1389.4 164.2L1391.0 164.7L1392.6 163.2L1394.2 161.8L1395.8 165.2L1397.4 162.5L1399.0 163.8L1400.6 163.5L1402.2 164.8L1403.8 163.9L1405.4 163.0L1407.0 162.9L1408.6 158.8L1410.2 161.4L1411.8 162.1L1413.4 162.3L1415.0 161.2L1416.6 160.4L1418.2 160.0L1419.8 160.9L1421.4 160.8L1423.0 164.3L1424.6 162.0L1426.2 162.7L1427.8 161.1L1429.4 161.6L1431.0 160.1L1432.6 160.7L1434.2 159.6L1435.8 162.9L1437.4 159.6L1439.0 161.9L1440.6 158.2L1442.2 161.3L1443.8 160.2L1445.4 161.2L1447.0 159.9L1448.6 158.0L1450.2 160.1L1451.8 158.9L1453.4 157.7L1455.0 160.0L1456.6 157.9L1458.2 159.2L1459.8 157.9L1461.4 159.8L1463.0 154.2L1464.6 157.0L1466.2 160.8L1467.8 158.3"/>
<path stroke="#f00" stroke-width="9.6" d="M896.2 529.4L895.9 528.5L895.6 526.8L895.3 525.3L895.0 523.9L894.9 522.3L894.9 520.7L894.9 519.0L895.0 517.2L895.0 515.4L895.1 513.9L895.1 512.1L895.2 510.6L895.3 509.1L895.4 507.7L895.5 506.3L895.7 505.0L896.0 503.1L896.3 501.4L896.6 499.7L896.9 498.1L897.2 496.9L897.5 495.3L897.8 493.8L898.2 491.8L898.5 490.3L898.9 488.7L899.2 487.4L899.6 486.0L900.0 484.4L900.4 482.7L900.8 480.9L901.2 479.8L901.6 477.9L902.0 476.5L902.4 475.0L902.8 473.4L903.1 471.8L903.5 470.0L903.9 468.3L904.3 466.8L904.7 465.5L905.0 463.8L905.4 462.2L905.8 460.5L906.2 459.0L906.6 458.0L906.9 456.4L907.3 454.7L907.7 452.8L908.1 451.4L908.5 449.6L908.8 448.1L909.2 447.0L909.6 445.2L909.9 443.5L910.3 441.9L910.7 440.8L911.0 438.9L911.4 437.5L911.8 436.4L912.1 434.6L912.5 433.3L912.9 431.6L913.2 429.4L913.6 427.3L914.0 425.9L914.3 424.6L914.7 422.7L915.1 421.4L915.4 420.3L915.8 419.3L916.2 417.0L916.5 416.1L916.9 414.9L917.3 412.9L917.6 411.0L918.0 409.5L918.4 407.5L918.8 406.1L919.2 404.5L919.6 402.9L920.0 401.6L920.4 399.9L920.8 397.8L921.3 396.9L921.7 395.3L922.2 393.6L922.7 392.3L923.1 390.7L923.6 389.6L924.1 387.9L924.6 386.2L925.2 384.4L925.7 382.8L926.2 381.6L926.7 380.3L927.2 378.2L927.7 376.6L928.2 375.8L928.7 374.2L929.2 372.7L929.6 371.2L930.1 369.9L930.5 368.1L930.9 366.5L931.4 364.9L931.8 362.9L932.2 361.4L932.6 360.4L933.0 359.2L933.4 357.4L933.8 355.1L934.2 353.4L934.6 352.3L935.0 350.3L935.4 348.9L935.8 347.7L936.2 345.9L936.6 344.5L937.0 343.4L937.4 341.7L937.9 339.9L938.3 337.8L938.8 337.1L939.3 335.3L939.8 333.8L940.3 332.3L940.8 331.3L941.3 328.9L941.9 327.0L942.4 325.2L942.9 324.1L943.5 322.3L944.0 321.1L944.6 319.5L945.2 318.6L945.8 317.0L946.3 315.8L946.9 314.7L947.5 313.1L948.1 311.9L948.7 310.6L949.3 308.7L949.9 307.3L950.6 304.3L951.2 302.4L951.8 301.2L952.4 299.9L953.1 299.5L953.7 297.7L954.4 297.2L955.0 295.6L955.7 294.0L956.4 292.4L957.1 290.1L957.8 289.4L958.5 286.1L959.2 286.0L960.0 284.1L960.7 284.3L961.5 281.6L962.3 281.4L963.1 279.4L963.9 278.0L964.7 276.0L965.6 274.6L966.5 273.4L967.4 272.5L968.4 269.7L969.3 269.8L970.3 268.6L971.3 267.8L972.3 266.2L973.3 265.8L974.3 264.3L975.4 262.2L976.4 261.6L977.5 259.7L978.5 259.2L979.6 256.3L980.7 256.0L981.7 253.3L982.8 252.8L983.9 252.5L985.0 250.5L986.1 248.9L987.2 247.2L988.3 246.0L989.5 245.4L990.7 246.6L991.8 244.1L993.0 243.6L994.2 242.2L995.4 240.1L996.6 240.8L997.8 238.2L999.0 235.5L1000.2 235.8L1001.4 236.1L1002.7 233.8L1003.9 233.5L1005.1 231.9L1006.4 230.4L1007.7 232.2L1008.9 230.3L1010.2 230.9L1011.5 229.7L1012.9 227.3L1014.2 227.8L1015.5 227.0L1016.9 225.8L1018.2 224.1L1019.6 222.9L1021.0 221.8L1022.4 221.9L1023.8 221.7L1025.2 219.9L1026.6 220.1L1028.0 219.6L1029.5 217.4L1030.9 217.7L1032.3 217.5L1033.8 214.8L1035.2 214.6L1036.7 216.5L1038.2 215.1L1039.6 211.4L1041.1 208.8L1042.5 210.8L1044.0 210.0L1045.5 209.4L1047.0 209.2L1048.5 211.1L1050.0 208.4L1051.5 207.9L1053.0 207.9L1054.6 209.0L1056.1 208.0L1057.6 206.8L1059.2 206.3L1060.7 205.2L1062.2 205.2L1063.8 203.5L1065.3 202.9L1066.9 204.3L1068.4 204.0L1070.0 202.5L1071.5 202.7L1073.0 200.4L1074.6 201.4L1076.1 200.7L1077.7 199.8L1079.2 201.0L1080.8 198.7L1082.3 199.1L1083.9 199.6L1085.4 199.5L1087.0 200.2L1088.6 199.9L1090.1 196.5L1091.7 196.8L1093.3 196.9L1094.8 196.1L1096.4 195.3L1098.0 196.2L1099.5 195.6L1101.1 194.7L1102.7 193.4L1104.2 193.5L1105.8 191.9L1107.4 193.1L1108.9 193.4L1110.5 194.4L1112.1 193.1L1113.6 191.8L1115.2 192.0L1116.8 191.8L1118.4 192.4L1119.9 192.0L1121.5 191.5L1123.1 190.8L1124.7 189.1L1126.2 188.9L1127.8 188.2L1129.4 187.5L1131.0 188.8L1132.5 187.1L1134.1 187.7L1135.7 189.2L1137.3 188.7L1138.8 187.8L1140.4 188.9L1142.0 185.0L1143.6 186.0L1145.2 185.1L1146.7 186.8L1148.3 185.9L1149.9 185.2L1151.5 185.9L1153.1 184.9L1154.7 184.6L1156.2 183.9L1157.8 185.2L1159.4 183.7L1161.0 183.8L1162.6 184.3L1164.2 185.7L1165.7 183.9L1167.3 183.3L1168.9 180.1L1170.5 182.5L1172.1 180.4L1173.7 179.8L1175.3 180.3L1176.8 180.5L1178.4 180.2L1180.0 182.0L1181.6 179.4L1183.2 180.2L1184.8 180.8L1186.4 180.1L1188.0 182.6L1189.5 181.9L1191.1 181.3L1192.7 181.4L1194.3 179.1L1195.9 177.1L1197.5 177.9L1199.1 178.4L1200.7 177.8L1202.3 178.3L1203.9 177.7L1205.4 177.1L1207.0 177.4L1208.6 177.6L1210.2 177.1L1211.8 176.8L1213.4 175.9L1215.0 177.8L1216.6 177.9L1218.2 177.2L1219.8 175.8L1221.4 177.1L1223.0 174.8L1224.6 173.6L1226.2 175.4L1227.8 174.0L1229.4 176.7L1230.9 175.5L1232.5 176.6L1234.1 174.0L1235.7 173.3L1237.3 173.2L1238.9 174.3L1240.5 175.1L1242.1 173.7L1243.7 174.1L1245.3 172.9L1246.9 174.7L1248.5 173.2L1250.1 172.4L1251.7 175.0L1253.3 174.7L1254.9 174.0L1256.5 173.5L1258.1 174.4L1259.7 172.8L1261.3 173.4L1262.9 172.4L1264.5 173.8L1266.1 173.5L1267.7 171.4L1269.3 173.1L1270.9 171.8L1272.5 169.7L1274.1 169.5L1275.7 171.7L1277.3 168.5L1278.9 170.4L1280.5 169.3L1282.1 168.8L1283.7 170.0L1285.3 169.2L1286.9 172.7L1288.5 170.6L1290.1 169.8L1291.7 169.9L1293.3 169.4L1294.9 168.1L1296.5 167.7L1298.1 169.2L1299.7 168.1L1301.3 167.2L1302.9 168.0L1304.5 167.9L1306.1 171.1L1307.7 171.1L1309.3 168.8L1310.9 170.1L1312.5 167.7L1314.1 166.5L1315.7 168.5L1317.3 169.3L1318.9 168.4L1320.5 167.5L1322.1 166.5L1323.7 167.3L1325.3 167.2L1326.9 168.3L1328.5 167.1L1330.1 167.9L1331.7 166.0L1333.3 165.6L1334.9 168.3L1336.5 166.7L1338.1 167.9L1339.7 165.7L1341.3 167.3L1342.9 165.0L1344.5 164.4L1346.1 163.0L1347.7 164.5L1349.3 165.3L1350.9 164.0L1352.5 166.6L1354.1 166.0L1355.7 166.0L1357.3 165.7L1358.9 167.5L1360.5 168.2L1362.1 168.4L1363.7 164.3L1365.3 165.1L1366.9 164.1L1368.5 164.7L1370.1 165.0L1371.7 163.0L1373.3 167.0L1374.9 165.6L1376.5 165.8L1378.1 166.0L1379.7 167.0L1381.3 167.1L1382.9 166.7L1384.5 163.4L1386.1 164.6L1387.7 164.6L1389.3 164.2L1390.9 162.9L1392.5 161.8L1394.1 162.5L1395.7 162.9L1397.3 162.3L1398.9 163.9L1400.5 162.9L1402.1 160.5L1403.7 162.8L1405.3 163.9L1406.9 165.2L1408.5 163.3L1410.1 161.8L1411.7 162.7L1413.3 162.8L1414.9 160.6L1416.5 161.4L1418.1 160.7L1419.7 161.9L1421.3 159.9L1422.9 159.6L1424.5 161.0L1426.1 162.1L1427.7 157.9L1429.3 161.6L1430.9 162.7L1432.5 165.2L1434.1 161.4L1435.7 160.9L1437.3 160.9L1438.9 163.0L1440.5 161.3L1442.1 161.9L1443.7 162.6L1445.3 161.4L1446.9 160.1L1448.5 160.3L1450.1 160.8L1451.7 159.1L1453.3 159.1L1454.9 160.0L1456.5 158.8L1458.1 158.8L1459.7 157.7L1461.3 157.4L1462.9 157.4L1464.5 159.4L1466.1 157.1L1467.8 156.7"/>
</g>
<rect x="1019.05" y="627.1" width="502.9000000000001" height="422.9" fill="#fff"/>
<g class="ax" stroke-width="3.9">
<path stroke-linecap="butt" stroke-linejoin="round" d="M1019.05 627.1H1521.95V1050.0H1019.05Z"/>
<path stroke-linecap="butt" stroke-width="4.5" d="M1019.05 838.50H1521.95"/>
<path stroke-linecap="butt" d="M1270.30 627.1V1050.0"/>
<path d="M1017.55 1050.00H1015.00M1017.55 1008.10H1011.00M1017.55 965.70H1015.00M1017.55 923.30H1011.00M1017.55 880.90H1015.00M1017.55 838.50H1011.00M1017.55 796.10H1015.00M1017.55 753.70H1011.00M1017.55 711.30H1015.00M1017.55 668.90H1011.00M1017.55 627.10H1015.00M1041.74 1051.50V1058.05M1070.31 1051.50V1054.05M1098.88 1051.50V1058.05M1127.45 1051.50V1054.05M1156.02 1051.50V1058.05M1184.59 1051.50V1054.05M1213.16 1051.50V1058.05M1241.73 1051.50V1054.05M1270.30 1051.50V1058.05M1298.87 1051.50V1054.05M1327.44 1051.50V1058.05M1356.01 1051.50V1054.05M1384.58 1051.50V1058.05M1413.15 1051.50V1054.05M1441.72 1051.50V1058.05M1470.29 1051.50V1054.05M1498.86 1051.50V1058.05"/>
</g>
<text class="b" transform="translate(0 676.70) scale(1 1.07)" font-size="24" stroke="#000" stroke-width="0.8"><tspan x="973.35 985.67 992.04" y="0">0.4</tspan></text>
<text class="b" transform="translate(0 761.60) scale(1 1.07)" font-size="24" stroke="#000" stroke-width="0.8"><tspan x="973.35 985.67 992.57" y="0">0.2</tspan></text>
<text class="b" transform="translate(0 845.75) scale(1 1.07)" font-size="24" stroke="#000" stroke-width="0.8"><tspan x="973.35 985.67 993.25" y="0">0.0</tspan></text>
<text class="b" transform="translate(0 930.50) scale(1 1.07)" font-size="24" stroke="#000" stroke-width="0.8"><tspan font-size="22.89" stroke-width="1.42" stroke-linejoin="miter" x="959.76" y="-0.52">−</tspan><tspan x="973.35 986.37 992.57" y="0">0.2</tspan></text>
<text class="b" transform="translate(0 1016.00) scale(1 1.07)" font-size="24" stroke="#000" stroke-width="0.8"><tspan font-size="22.89" stroke-width="1.42" stroke-linejoin="miter" x="959.76" y="-0.52">−</tspan><tspan x="973.35 986.37 992.94" y="0">0.4</tspan></text>
<text class="b" transform="translate(0 1083.80) scale(1 1.07)" font-size="24" stroke="#000" stroke-width="0.8"><tspan font-size="22.12" stroke-width="1.51" stroke-linejoin="miter" x="1012.93" y="-0.77">−</tspan><tspan x="1025.67 1038.77 1051.87" y="0">200</tspan></text>
<text class="b" transform="translate(0 1083.80) scale(1 1.07)" font-size="24" stroke="#000" stroke-width="0.8"><tspan font-size="22.12" stroke-width="1.51" stroke-linejoin="miter" x="1068.83" y="-0.77">−</tspan><tspan x="1082.79 1095.89 1108.99" y="0">150</tspan></text>
<text class="b" transform="translate(0 1083.80) scale(1 1.07)" font-size="24" stroke="#000" stroke-width="0.8"><tspan font-size="22.12" stroke-width="1.51" stroke-linejoin="miter" x="1126.73" y="-0.77">−</tspan><tspan x="1140.59 1153.69 1166.79" y="0">100</tspan></text>
<text class="b" transform="translate(0 1083.80) scale(1 1.07)" font-size="24" stroke="#000" stroke-width="0.8"><tspan font-size="22.12" stroke-width="1.51" stroke-linejoin="miter" x="1190.63" y="-0.77">−</tspan><tspan x="1204.76 1217.86" y="0">50</tspan></text>
<text class="b" transform="translate(0 1083.80) scale(1 1.07)" font-size="24" stroke="#000" stroke-width="0.8"><tspan x="1264.25" y="0">0</tspan></text>
<text class="b" transform="translate(0 1083.80) scale(1 1.07)" font-size="24" stroke="#000" stroke-width="0.8"><tspan x="1314.76 1327.86" y="0">50</tspan></text>
<text class="b" transform="translate(0 1083.80) scale(1 1.07)" font-size="24" stroke="#000" stroke-width="0.8"><tspan x="1365.79 1378.89 1391.99" y="0">100</tspan></text>
<text class="b" transform="translate(0 1083.80) scale(1 1.07)" font-size="24" stroke="#000" stroke-width="0.8"><tspan x="1422.99 1436.09 1449.19" y="0">150</tspan></text>
<text class="b" transform="translate(0 1083.80) scale(1 1.07)" font-size="24" stroke="#000" stroke-width="0.8"><tspan x="1479.87 1492.97 1506.07" y="0">200</tspan></text>
<text transform="translate(0.00 1123.70) scale(1.0 1.08)" font-size="24" stroke="#000" stroke-width="0.7" stroke-linejoin="round"><tspan x="1166.28 1185.94 1198.70 1213.02 1226.90 1239.97 1247.67 1254.18 1266.18 1273.53 1281.59 1287.76 1300.92 1307.15 1320.50 1327.99 1335.72 1353.73 1368.03" y="0">Magnetic field (Oe)</tspan></text>
<text class="b" transform="translate(951.10 995.00) rotate(-90) scale(1.0 1.04)" font-size="24" stroke="#000" stroke-width="1.1" stroke-linejoin="round"><tspan x="6.04 25.82 38.96 53.11 67.32 80.75 88.77 94.67 107.11 120.27 127.91 134.59 148.99 163.65 170.01 177.95 193.39 214.50 229.62 237.61 243.48 257.31 270.31" y="0">Magnetization (Emu) ×10</tspan><tspan font-size="12.77" stroke-width="1.30" stroke-linejoin="miter" x="281.92" y="-11.81">−</tspan><tspan font-size="14.8" stroke-width="0.5" x="289.53" y="-10.87">4</tspan></text>
<clipPath id="ic"><rect x="1017.1" y="625.2" width="506.7" height="426.7"/></clipPath>
<g class="cv" fill="none" stroke-linejoin="round" stroke-linecap="butt" clip-path="url(#ic)">
<path stroke="#000" stroke-width="3.7" d="M1077.1 1062.0L1082.1 1048.9L1090.1 1028.0L1099.8 995.9L1108.6 963.7L1116.6 931.5L1125.5 899.3L1134.3 867.2L1144.4 838.1L1152.0 824.0L1159.3 813.0L1168.9 780.9L1178.6 748.7L1188.2 716.5L1197.9 684.3L1208.3 652.2L1217.2 627.2L1221.9 614.0"/>
<path stroke="#000" stroke-width="3.7" d="M1321.5 1062.5L1325.3 1049.0L1328.5 1037.7L1334.1 1023.2L1339.0 1008.7L1343.8 989.4L1348.6 968.5L1353.4 947.6L1356.6 934.7L1361.5 921.9L1367.9 905.8L1374.3 888.1L1380.8 867.2L1388.8 838.2L1397.0 810.0L1408.0 772.0L1419.5 737.0L1429.8 710.1L1434.7 697.2L1440.3 681.1L1446.7 663.4L1453.2 644.1L1457.2 627.2L1460.4 613.6"/>
<path stroke="#f00" stroke-width="3.7" d="M1088.6 1061.9L1093.8 1048.9L1102.2 1028.0L1110.2 995.9L1118.3 963.7L1125.5 931.5L1133.5 899.3L1140.8 867.2L1148.0 838.1L1156.9 813.0L1164.9 780.9L1172.1 748.7L1179.4 716.5L1186.6 684.3L1195.5 652.2L1203.5 627.2L1207.8 613.9"/>
<path stroke="#f00" stroke-width="3.7" d="M1330.4 1062.5L1334.1 1049.0L1391.2 838.1L1448.7 627.2L1452.4 613.7"/>
</g>
</svg></body></html>
